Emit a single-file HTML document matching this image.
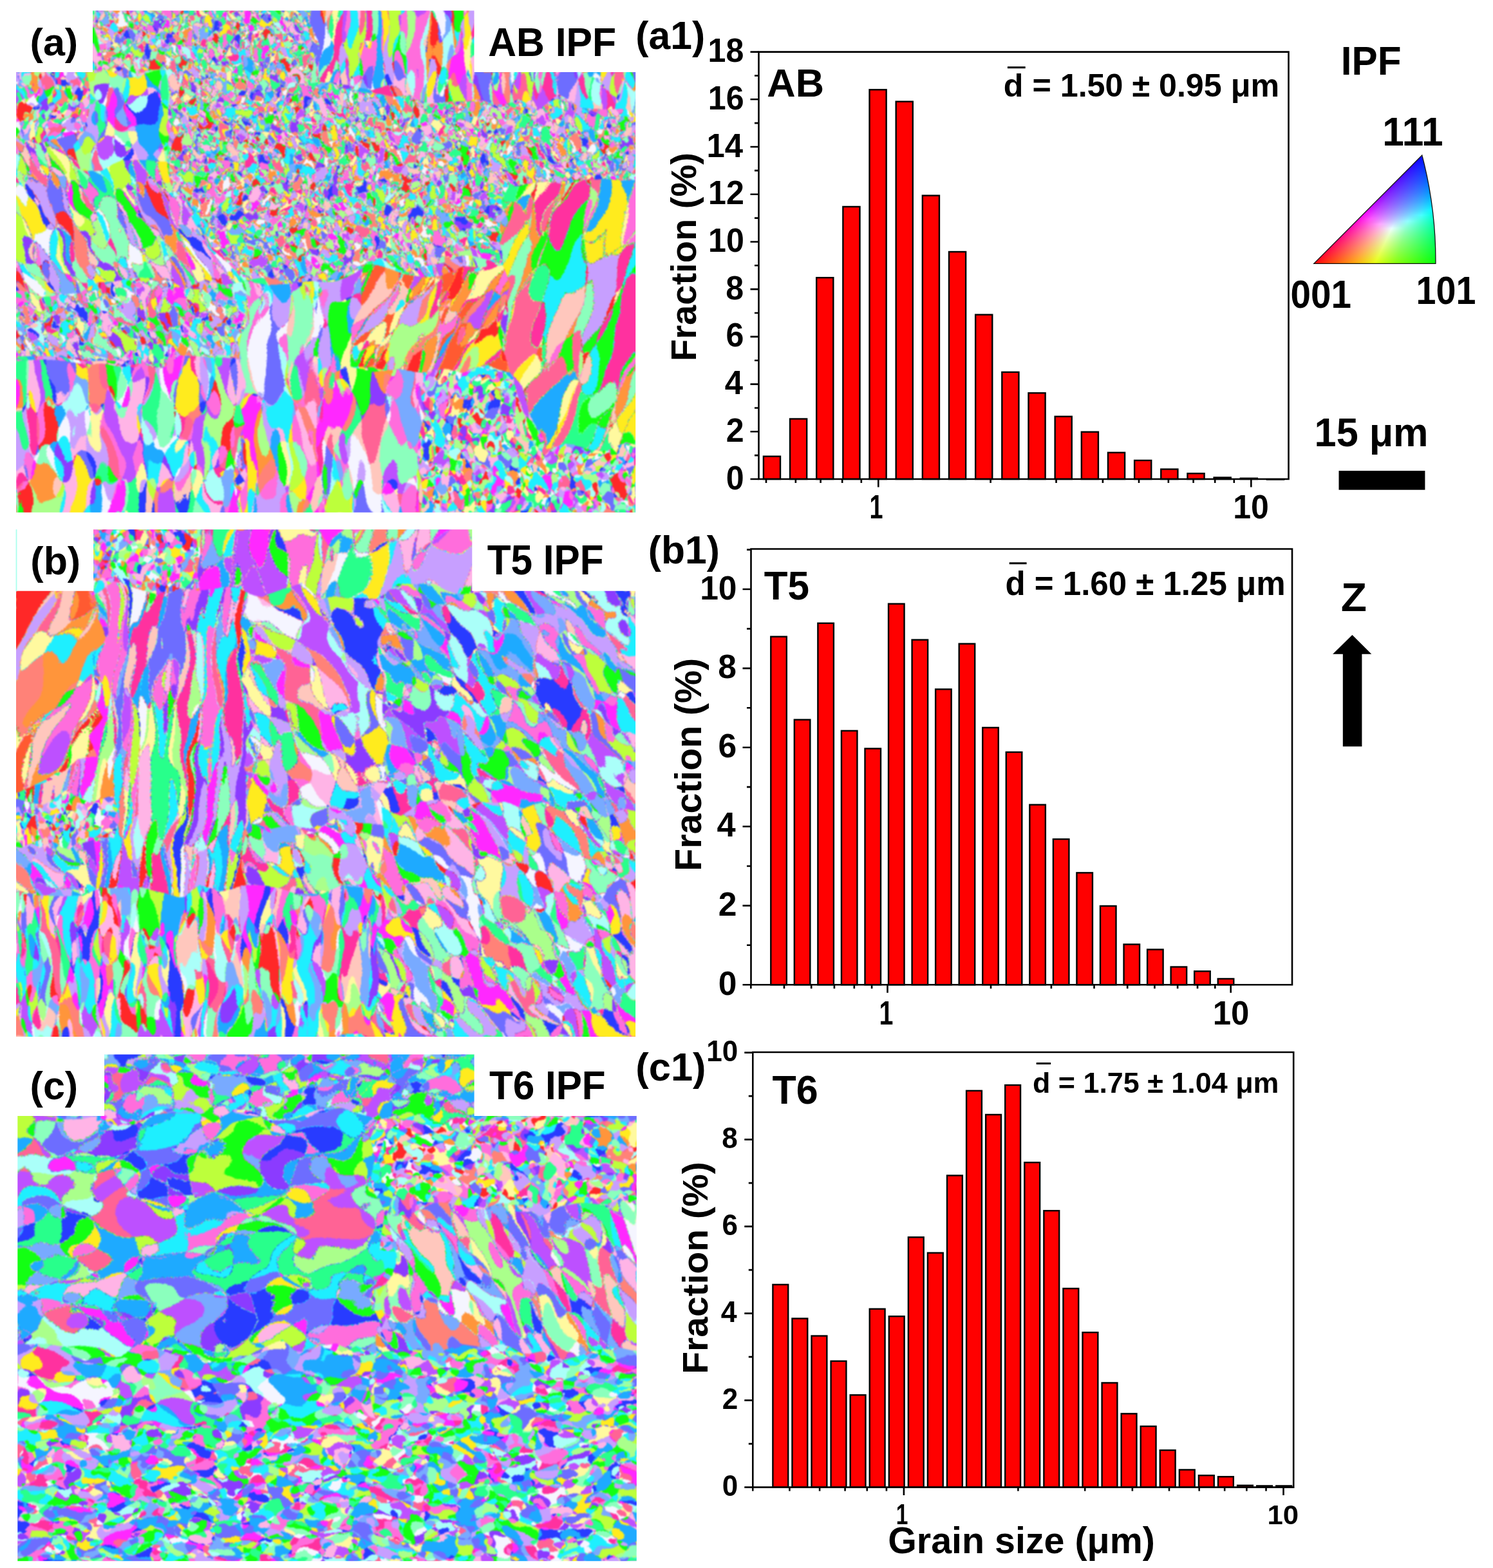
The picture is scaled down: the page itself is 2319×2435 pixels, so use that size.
<!DOCTYPE html>
<html><head><meta charset="utf-8"><style>html,body{margin:0;padding:0;background:#fff}svg{display:block}</style></head>
<body><svg width="2319" height="2435" viewBox="0 0 2319 2435">
<defs><filter id="fa0" x="-133" y="-189" width="1278" height="1190" filterUnits="userSpaceOnUse" color-interpolation-filters="sRGB"><feTurbulence type="fractalNoise" baseFrequency="0.028 0.011" numOctaves="2" seed="3"/><feComponentTransfer><feFuncR type="discrete" tableValues="0 1"/><feFuncG type="discrete" tableValues="0 1"/><feFuncB type="discrete" tableValues="0 1"/><feFuncA type="table" tableValues="1 1"/></feComponentTransfer><feColorMatrix type="matrix" values="0.5 0.25 0.125 0 0 0.5 0.25 0.125 0 0 0.5 0.25 0.125 0 0 0 0 0 0 1" result="i1"/><feTurbulence type="fractalNoise" baseFrequency="0.028 0.011" numOctaves="2" seed="1003"/><feComponentTransfer><feFuncR type="discrete" tableValues="0 1"/><feFuncG type="discrete" tableValues="0 1"/><feFuncA type="table" tableValues="1 1"/></feComponentTransfer><feColorMatrix type="matrix" values="0.0625 0.03125 0 0 0 0.0625 0.03125 0 0 0 0.0625 0.03125 0 0 0 0 0 0 0 1" result="i2"/><feComposite in="i1" in2="i2" operator="arithmetic" k1="0" k2="1" k3="1" k4="0.015625"/><feComponentTransfer><feFuncR type="discrete" tableValues="1.000 0.471 0.078 1.000 0.745 1.000 1.000 1.000 0.667 0.118 0.745 1.000 0.118 0.157 0.549 1.000 1.000 0.784 1.000 0.157 1.000 0.431 1.000 0.784 0.118 0.961 0.667 1.000 1.000 0.549 0.549 0.157"/><feFuncG type="discrete" tableValues="0.706 0.667 1.000 0.157 0.314 0.588 0.784 0.392 1.000 0.941 1.000 0.980 0.667 1.000 0.235 0.431 0.431 0.627 0.706 0.235 0.157 0.431 0.510 0.627 0.941 0.961 1.000 0.922 0.196 1.000 1.000 1.000"/><feFuncB type="discrete" tableValues="0.902 1.000 0.078 1.000 1.000 0.235 0.745 0.588 0.980 1.000 0.235 0.627 1.000 0.549 1.000 0.863 0.863 1.000 0.902 1.000 0.157 1.000 0.471 1.000 1.000 1.000 0.549 0.118 0.627 0.745 0.745 0.549"/></feComponentTransfer></filter><filter id="fa1" x="110" y="97" width="157" height="178" filterUnits="userSpaceOnUse" color-interpolation-filters="sRGB"><feTurbulence type="fractalNoise" baseFrequency="0.02 0.013" numOctaves="2" seed="5"/><feComponentTransfer><feFuncR type="discrete" tableValues="0 1"/><feFuncG type="discrete" tableValues="0 1"/><feFuncB type="discrete" tableValues="0 1"/><feFuncA type="table" tableValues="1 1"/></feComponentTransfer><feColorMatrix type="matrix" values="0.5 0.25 0.125 0 0 0.5 0.25 0.125 0 0 0.5 0.25 0.125 0 0 0 0 0 0 1" result="i1"/><feTurbulence type="fractalNoise" baseFrequency="0.02 0.013" numOctaves="2" seed="1005"/><feComponentTransfer><feFuncR type="discrete" tableValues="0 1"/><feFuncG type="discrete" tableValues="0 1"/><feFuncA type="table" tableValues="1 1"/></feComponentTransfer><feColorMatrix type="matrix" values="0.0625 0.03125 0 0 0 0.0625 0.03125 0 0 0 0.0625 0.03125 0 0 0 0 0 0 0 1" result="i2"/><feComposite in="i1" in2="i2" operator="arithmetic" k1="0" k2="1" k3="1" k4="0.015625"/><feComponentTransfer><feFuncR type="discrete" tableValues="1.000 0.157 0.157 1.000 0.745 0.078 0.667 0.549 0.118 0.078 0.118 0.745 1.000 0.118 0.549 0.667 0.784 1.000 1.000 1.000 1.000 0.549 1.000 0.961 0.118 0.784 0.431 0.471 0.431 0.157 0.471 0.118"/><feFuncG type="discrete" tableValues="0.706 1.000 0.235 0.431 0.314 1.000 1.000 0.235 0.667 1.000 0.667 1.000 0.922 0.941 1.000 1.000 0.627 0.431 0.157 0.196 0.980 1.000 0.392 0.961 0.667 0.627 0.431 0.667 0.431 1.000 0.667 0.941"/><feFuncB type="discrete" tableValues="0.902 0.549 1.000 0.863 1.000 0.078 0.980 1.000 1.000 0.078 1.000 0.235 0.118 1.000 0.745 0.549 1.000 0.863 1.000 0.627 0.627 0.745 0.588 1.000 1.000 1.000 1.000 1.000 1.000 0.549 1.000 1.000"/></feComponentTransfer></filter><clipPath id="cpfa1"><path d="M128.0 112.0 L159.8 103.2 L191.5 120.3 L223.2 118.3 L255.0 112.0 L260.9 146.5 L255.1 181.0 L256.2 215.5 L255.0 250.0 L222.9 249.4 L190.8 249.1 L160.7 268.7 L128.0 262.0 L116.7 232.0 L136.1 202.0 L126.4 172.0 L134.3 142.0Z"/></clipPath><filter id="fa2" x="226" y="-86" width="822" height="573" filterUnits="userSpaceOnUse" color-interpolation-filters="sRGB"><feTurbulence type="fractalNoise" baseFrequency="0.05 0.038" numOctaves="2" seed="7"/><feComponentTransfer><feFuncR type="discrete" tableValues="0 1"/><feFuncG type="discrete" tableValues="0 1"/><feFuncB type="discrete" tableValues="0 1"/><feFuncA type="table" tableValues="1 1"/></feComponentTransfer><feColorMatrix type="matrix" values="0.5 0.25 0.125 0 0 0.5 0.25 0.125 0 0 0.5 0.25 0.125 0 0 0 0 0 0 1" result="i1"/><feTurbulence type="fractalNoise" baseFrequency="0.05 0.038" numOctaves="2" seed="1007"/><feComponentTransfer><feFuncR type="discrete" tableValues="0 1"/><feFuncG type="discrete" tableValues="0 1"/><feFuncA type="table" tableValues="1 1"/></feComponentTransfer><feColorMatrix type="matrix" values="0.0625 0.03125 0 0 0 0.0625 0.03125 0 0 0 0.0625 0.03125 0 0 0 0 0 0 0 1" result="i2"/><feComposite in="i1" in2="i2" operator="arithmetic" k1="0" k2="1" k3="1" k4="0.015625"/><feComponentTransfer><feFuncR type="discrete" tableValues="0.745 1.000 0.667 1.000 0.784 1.000 1.000 0.667 1.000 0.078 1.000 0.157 0.118 0.471 0.118 0.745 0.157 0.549 1.000 0.157 0.431 0.549 1.000 1.000 0.549 1.000 1.000 0.961 1.000 1.000 0.784 0.118"/><feFuncG type="discrete" tableValues="0.314 0.706 1.000 0.157 0.627 0.784 0.431 1.000 0.157 1.000 0.706 1.000 0.667 0.667 0.941 1.000 0.235 0.235 0.431 1.000 0.431 1.000 0.922 0.392 1.000 0.510 0.588 0.961 0.980 0.196 0.627 0.941"/><feFuncB type="discrete" tableValues="1.000 0.902 0.549 1.000 1.000 0.745 0.863 0.980 0.157 0.078 0.902 0.549 1.000 1.000 1.000 0.235 1.000 1.000 0.863 0.549 1.000 0.745 0.118 0.588 0.745 0.471 0.235 1.000 0.627 0.627 1.000 1.000"/></feComponentTransfer></filter><clipPath id="cpfa2"><path d="M144.0 0.0 L175.5 10.9 L206.9 10.7 L238.4 -10.6 L269.8 -10.0 L301.3 8.1 L332.7 5.7 L364.2 4.1 L395.6 -4.6 L427.1 2.5 L458.5 2.6 L490.0 0.0 L488.1 33.8 L498.2 67.5 L491.7 101.2 L490.0 135.0 L521.0 134.3 L551.4 144.1 L581.9 152.5 L612.8 153.3 L644.3 145.4 L675.3 144.9 L706.5 142.6 L737.0 150.0 L771.1 142.7 L804.0 146.2 L835.7 160.4 L869.0 160.7 L901.7 165.9 L933.2 181.8 L967.1 176.9 L1000.0 180.0 L998.5 216.7 L1006.3 253.3 L1000.0 290.0 L970.0 301.4 L940.0 294.2 L910.0 298.7 L880.0 289.8 L850.0 278.0 L820.0 285.8 L790.0 290.0 L795.1 320.6 L775.6 349.2 L775.4 379.4 L780.0 410.0 L748.4 405.1 L716.9 401.7 L685.6 405.8 L654.1 405.9 L622.9 417.1 L591.2 402.7 L560.0 415.0 L520.0 437.0 L483.8 425.9 L447.5 445.1 L411.2 430.9 L375.0 437.0 L358.1 406.5 L332.3 382.8 L312.6 354.4 L290.8 327.5 L270.0 300.0 L255.0 250.0 L265.2 215.5 L255.0 181.0 L263.0 146.5 L255.0 112.0 L218.0 115.5 L181.0 102.8 L144.0 112.0 L153.6 74.7 L143.1 37.3Z"/></clipPath><filter id="fa2b" x="-5" y="93" width="151" height="134" filterUnits="userSpaceOnUse" color-interpolation-filters="sRGB"><feTurbulence type="fractalNoise" baseFrequency="0.05 0.038" numOctaves="2" seed="17"/><feComponentTransfer><feFuncR type="discrete" tableValues="0 1"/><feFuncG type="discrete" tableValues="0 1"/><feFuncB type="discrete" tableValues="0 1"/><feFuncA type="table" tableValues="1 1"/></feComponentTransfer><feColorMatrix type="matrix" values="0.5 0.25 0.125 0 0 0.5 0.25 0.125 0 0 0.5 0.25 0.125 0 0 0 0 0 0 1" result="i1"/><feTurbulence type="fractalNoise" baseFrequency="0.05 0.038" numOctaves="2" seed="1017"/><feComponentTransfer><feFuncR type="discrete" tableValues="0 1"/><feFuncG type="discrete" tableValues="0 1"/><feFuncA type="table" tableValues="1 1"/></feComponentTransfer><feColorMatrix type="matrix" values="0.0625 0.03125 0 0 0 0.0625 0.03125 0 0 0 0.0625 0.03125 0 0 0 0 0 0 0 1" result="i2"/><feComposite in="i1" in2="i2" operator="arithmetic" k1="0" k2="1" k3="1" k4="0.015625"/><feComponentTransfer><feFuncR type="discrete" tableValues="0.157 0.118 0.667 0.078 0.745 0.549 1.000 0.549 1.000 1.000 1.000 0.961 0.118 0.157 1.000 0.745 1.000 1.000 1.000 1.000 1.000 0.118 0.549 0.784 0.667 0.471 1.000 0.784 1.000 1.000 0.157 0.431"/><feFuncG type="discrete" tableValues="1.000 0.667 1.000 1.000 0.314 0.235 0.588 1.000 0.510 0.431 0.157 0.961 0.941 1.000 0.196 1.000 0.980 0.431 0.157 0.392 0.706 0.941 1.000 0.627 1.000 0.667 0.784 0.627 0.922 0.706 0.235 0.431"/><feFuncB type="discrete" tableValues="0.549 1.000 0.549 0.078 1.000 1.000 0.235 0.745 0.471 0.863 1.000 1.000 1.000 0.549 0.627 0.235 0.627 0.863 0.157 0.588 0.902 1.000 0.745 1.000 0.980 1.000 0.745 1.000 0.118 0.902 1.000 1.000"/></feComponentTransfer></filter><clipPath id="cpfa2b"><path d="M0.0 100.0 L32.0 99.4 L64.0 103.8 L96.0 104.0 L128.0 100.0 L136.6 137.3 L139.7 174.7 L128.0 212.0 L96.1 216.5 L64.3 220.4 L31.7 209.1 L0.0 218.0 L4.6 178.7 L2.4 139.3Z"/></clipPath><filter id="fa3" x="632" y="559" width="375" height="267" filterUnits="userSpaceOnUse" color-interpolation-filters="sRGB"><feTurbulence type="fractalNoise" baseFrequency="0.046 0.034" numOctaves="2" seed="8"/><feComponentTransfer><feFuncR type="discrete" tableValues="0 1"/><feFuncG type="discrete" tableValues="0 1"/><feFuncB type="discrete" tableValues="0 1"/><feFuncA type="table" tableValues="1 1"/></feComponentTransfer><feColorMatrix type="matrix" values="0.5 0.25 0.125 0 0 0.5 0.25 0.125 0 0 0.5 0.25 0.125 0 0 0 0 0 0 1" result="i1"/><feTurbulence type="fractalNoise" baseFrequency="0.046 0.034" numOctaves="2" seed="1008"/><feComponentTransfer><feFuncR type="discrete" tableValues="0 1"/><feFuncG type="discrete" tableValues="0 1"/><feFuncA type="table" tableValues="1 1"/></feComponentTransfer><feColorMatrix type="matrix" values="0.0625 0.03125 0 0 0 0.0625 0.03125 0 0 0 0.0625 0.03125 0 0 0 0 0 0 0 1" result="i2"/><feComposite in="i1" in2="i2" operator="arithmetic" k1="0" k2="1" k3="1" k4="0.015625"/><feComponentTransfer><feFuncR type="discrete" tableValues="1.000 0.118 0.667 1.000 0.471 0.549 1.000 0.784 0.745 0.157 0.118 1.000 1.000 0.431 0.118 0.549 0.157 0.961 1.000 0.784 0.549 0.157 1.000 0.745 1.000 1.000 0.667 1.000 1.000 1.000 1.000 0.078"/><feFuncG type="discrete" tableValues="0.784 0.667 1.000 0.706 0.667 1.000 0.157 0.627 1.000 0.235 0.941 0.392 0.706 0.431 0.941 1.000 1.000 0.961 0.157 0.627 0.235 1.000 0.431 0.314 0.510 0.588 1.000 0.431 0.196 0.980 0.922 1.000"/><feFuncB type="discrete" tableValues="0.745 1.000 0.549 0.902 1.000 0.745 1.000 1.000 0.235 1.000 1.000 0.588 0.902 1.000 1.000 0.745 0.549 1.000 0.157 1.000 1.000 0.549 0.863 1.000 0.471 0.235 0.980 0.863 0.627 0.627 0.118 0.078"/></feComponentTransfer></filter><clipPath id="cpfa3"><path d="M650.0 571.0 L685.2 565.7 L720.0 574.1 L755.1 570.9 L790.0 575.0 L802.8 605.4 L817.3 634.9 L844.3 658.0 L850.0 692.0 L880.0 680.3 L910.0 700.1 L940.0 686.2 L970.0 685.6 L1000.0 692.0 L988.1 731.3 L1000.7 770.7 L1000.0 810.0 L968.2 801.9 L936.4 810.6 L904.5 806.7 L872.7 818.4 L840.9 806.8 L809.1 801.2 L777.3 809.4 L745.5 804.2 L713.6 805.9 L681.8 820.5 L650.0 810.0 L656.2 775.9 L652.2 741.7 L645.2 707.6 L638.7 673.4 L658.8 639.3 L649.3 605.1Z"/></clipPath><filter id="fa3b" x="-25" y="230" width="404" height="268" filterUnits="userSpaceOnUse" color-interpolation-filters="sRGB"><feTurbulence type="fractalNoise" baseFrequency="0.046 0.03" numOctaves="2" seed="18"/><feComponentTransfer><feFuncR type="discrete" tableValues="0 1"/><feFuncG type="discrete" tableValues="0 1"/><feFuncB type="discrete" tableValues="0 1"/><feFuncA type="table" tableValues="1 1"/></feComponentTransfer><feColorMatrix type="matrix" values="0.5 0.25 0.125 0 0 0.5 0.25 0.125 0 0 0.5 0.25 0.125 0 0 0 0 0 0 1" result="i1"/><feTurbulence type="fractalNoise" baseFrequency="0.046 0.03" numOctaves="2" seed="1018"/><feComponentTransfer><feFuncR type="discrete" tableValues="0 1"/><feFuncG type="discrete" tableValues="0 1"/><feFuncA type="table" tableValues="1 1"/></feComponentTransfer><feColorMatrix type="matrix" values="0.0625 0.03125 0 0 0 0.0625 0.03125 0 0 0 0.0625 0.03125 0 0 0 0 0 0 0 1" result="i2"/><feComposite in="i1" in2="i2" operator="arithmetic" k1="0" k2="1" k3="1" k4="0.015625"/><feComponentTransfer><feFuncR type="discrete" tableValues="1.000 0.549 1.000 0.745 0.431 0.157 1.000 0.667 0.784 1.000 0.118 0.784 1.000 0.961 0.549 0.549 0.157 1.000 0.745 1.000 0.667 1.000 0.471 0.118 0.157 1.000 1.000 1.000 0.078 0.118 1.000 1.000"/><feFuncG type="discrete" tableValues="0.157 0.235 0.196 1.000 0.431 1.000 0.980 1.000 0.627 0.510 0.667 0.627 0.588 0.961 1.000 1.000 0.235 0.706 0.314 0.706 1.000 0.784 0.667 0.941 1.000 0.431 0.431 0.157 1.000 0.941 0.392 0.922"/><feFuncB type="discrete" tableValues="0.157 1.000 0.627 0.235 1.000 0.549 0.627 0.549 1.000 0.471 1.000 1.000 0.235 1.000 0.745 0.745 1.000 0.902 1.000 0.902 0.980 0.745 1.000 1.000 0.549 0.863 0.863 1.000 0.078 1.000 0.588 0.118"/></feComponentTransfer></filter><clipPath id="cpfa3b"><path d="M0.0 455.0 L31.0 448.0 L62.7 456.9 L93.9 455.7 L125.3 458.4 L155.9 441.2 L187.2 441.0 L218.4 437.8 L249.7 438.4 L281.5 449.4 L312.1 433.6 L343.8 442.0 L375.0 440.0 L381.9 470.5 L379.9 501.0 L376.6 531.5 L375.0 562.0 L343.7 554.1 L312.5 559.9 L281.3 574.4 L250.0 568.4 L218.8 571.7 L187.4 554.6 L156.2 556.3 L124.9 556.7 L93.7 556.4 L62.5 558.6 L31.2 554.0 L0.0 565.0 L7.1 528.3 L-5.8 491.7Z"/></clipPath><filter id="fa4" x="725" y="115" width="349" height="449" filterUnits="userSpaceOnUse" color-interpolation-filters="sRGB"><feTurbulence type="fractalNoise" baseFrequency="0.016 0.0045" numOctaves="2" seed="9"/><feComponentTransfer><feFuncR type="discrete" tableValues="0 1"/><feFuncG type="discrete" tableValues="0 1"/><feFuncB type="discrete" tableValues="0 1"/><feFuncA type="table" tableValues="1 1"/></feComponentTransfer><feColorMatrix type="matrix" values="0.5 0.25 0.125 0 0 0.5 0.25 0.125 0 0 0.5 0.25 0.125 0 0 0 0 0 0 1" result="i1"/><feTurbulence type="fractalNoise" baseFrequency="0.016 0.0045" numOctaves="2" seed="1009"/><feComponentTransfer><feFuncR type="discrete" tableValues="0 1"/><feFuncG type="discrete" tableValues="0 1"/><feFuncA type="table" tableValues="1 1"/></feComponentTransfer><feColorMatrix type="matrix" values="0.0625 0.03125 0 0 0 0.0625 0.03125 0 0 0 0.0625 0.03125 0 0 0 0 0 0 0 1" result="i2"/><feComposite in="i1" in2="i2" operator="arithmetic" k1="0" k2="1" k3="1" k4="0.015625"/><feComponentTransfer><feFuncR type="discrete" tableValues="1.000 0.667 1.000 1.000 0.549 1.000 1.000 0.078 1.000 1.000 0.157 0.745 1.000 0.118 1.000 0.745 0.078 1.000 0.118 0.078 0.784 1.000 1.000 1.000 0.078 0.549 0.157 0.157 1.000 1.000 1.000 1.000"/><feFuncG type="discrete" tableValues="0.157 1.000 0.784 0.431 1.000 0.392 0.588 1.000 0.980 0.431 1.000 1.000 0.922 0.667 0.510 1.000 1.000 0.196 0.941 1.000 0.627 0.157 0.196 0.980 1.000 1.000 1.000 1.000 0.922 0.980 0.392 0.353"/><feFuncB type="discrete" tableValues="0.157 0.549 0.745 0.863 0.745 0.588 0.235 0.078 0.627 0.863 0.549 0.235 0.118 1.000 0.471 0.235 0.078 0.627 1.000 0.078 1.000 0.157 0.627 0.627 0.078 0.745 0.549 0.549 0.118 0.627 0.588 0.196"/></feComponentTransfer></filter><clipPath id="cpfa4"><path d="M790.0 290.0 L819.8 282.7 L849.7 278.5 L879.9 284.5 L909.7 277.7 L939.7 274.6 L969.9 281.6 L1000.0 283.0 L990.0 314.5 L992.8 345.9 L993.6 377.4 L1006.7 408.8 L999.1 440.3 L1005.4 471.8 L1007.9 503.2 L1009.5 534.7 L1006.9 566.2 L989.7 597.6 L992.1 629.1 L992.6 660.5 L1000.0 692.0 L970.0 684.8 L940.0 699.4 L910.0 696.6 L880.0 689.0 L850.0 692.0 L840.0 660.2 L827.6 629.6 L813.1 600.1 L790.0 575.0 L778.1 542.6 L788.5 508.8 L788.1 475.8 L782.1 443.0 L780.0 410.0 L774.8 379.4 L784.4 349.9 L777.7 319.2Z"/></clipPath><filter id="fa5" x="551" y="266" width="292" height="267" filterUnits="userSpaceOnUse" color-interpolation-filters="sRGB"><feTurbulence type="fractalNoise" baseFrequency="0.026 0.008" numOctaves="2" seed="10"/><feComponentTransfer><feFuncR type="discrete" tableValues="0 1"/><feFuncG type="discrete" tableValues="0 1"/><feFuncB type="discrete" tableValues="0 1"/><feFuncA type="table" tableValues="1 1"/></feComponentTransfer><feColorMatrix type="matrix" values="0.5 0.25 0.125 0 0 0.5 0.25 0.125 0 0 0.5 0.25 0.125 0 0 0 0 0 0 1" result="i1"/><feTurbulence type="fractalNoise" baseFrequency="0.026 0.008" numOctaves="2" seed="1010"/><feComponentTransfer><feFuncR type="discrete" tableValues="0 1"/><feFuncG type="discrete" tableValues="0 1"/><feFuncA type="table" tableValues="1 1"/></feComponentTransfer><feColorMatrix type="matrix" values="0.0625 0.03125 0 0 0 0.0625 0.03125 0 0 0 0.0625 0.03125 0 0 0 0 0 0 0 1" result="i2"/><feComposite in="i1" in2="i2" operator="arithmetic" k1="0" k2="1" k3="1" k4="0.015625"/><feComponentTransfer><feFuncR type="discrete" tableValues="1.000 1.000 1.000 0.118 1.000 1.000 1.000 0.078 0.784 1.000 1.000 0.157 0.667 1.000 1.000 1.000 0.745 1.000 0.078 1.000 1.000 1.000 1.000 1.000 0.118 1.000 1.000 1.000 1.000 1.000 1.000 1.000"/><feFuncG type="discrete" tableValues="0.353 0.980 0.784 0.941 0.980 0.196 0.588 1.000 0.627 0.510 0.431 1.000 1.000 0.922 0.510 0.157 0.314 0.510 1.000 0.196 0.588 0.353 0.922 0.157 0.667 0.392 0.353 0.588 0.431 0.392 0.784 0.588"/><feFuncB type="discrete" tableValues="0.196 0.627 0.745 1.000 0.627 0.627 0.235 0.078 1.000 0.471 0.863 0.549 0.549 0.118 0.471 0.157 1.000 0.471 0.078 0.627 0.235 0.196 0.118 0.157 1.000 0.588 0.196 0.235 0.863 0.588 0.745 0.235"/></feComponentTransfer></filter><clipPath id="cpfa5"><path d="M560.0 415.0 L591.5 417.2 L623.0 419.4 L654.4 419.9 L686.0 422.8 L717.3 417.2 L748.8 420.8 L780.0 410.0 L793.3 442.3 L784.8 476.0 L775.4 509.6 L784.4 542.2 L790.0 575.0 L755.3 564.4 L719.7 582.3 L685.0 572.7 L650.0 571.0 L616.6 576.7 L583.3 569.3 L550.0 570.0 L553.8 539.1 L542.3 507.2 L549.2 476.6 L552.7 445.7Z"/></clipPath><filter id="fa6" x="359" y="414" width="303" height="410" filterUnits="userSpaceOnUse" color-interpolation-filters="sRGB"><feTurbulence type="fractalNoise" baseFrequency="0.02 0.0065" numOctaves="2" seed="11"/><feComponentTransfer><feFuncR type="discrete" tableValues="0 1"/><feFuncG type="discrete" tableValues="0 1"/><feFuncB type="discrete" tableValues="0 1"/><feFuncA type="table" tableValues="1 1"/></feComponentTransfer><feColorMatrix type="matrix" values="0.5 0.25 0.125 0 0 0.5 0.25 0.125 0 0 0.5 0.25 0.125 0 0 0 0 0 0 1" result="i1"/><feTurbulence type="fractalNoise" baseFrequency="0.02 0.0065" numOctaves="2" seed="1011"/><feComponentTransfer><feFuncR type="discrete" tableValues="0 1"/><feFuncG type="discrete" tableValues="0 1"/><feFuncA type="table" tableValues="1 1"/></feComponentTransfer><feColorMatrix type="matrix" values="0.0625 0.03125 0 0 0 0.0625 0.03125 0 0 0 0.0625 0.03125 0 0 0 0 0 0 0 1" result="i2"/><feComposite in="i1" in2="i2" operator="arithmetic" k1="0" k2="1" k3="1" k4="0.015625"/><feComponentTransfer><feFuncR type="discrete" tableValues="0.784 0.667 0.118 1.000 1.000 1.000 0.471 1.000 0.118 1.000 1.000 1.000 1.000 1.000 1.000 1.000 0.431 1.000 0.667 0.745 0.961 1.000 1.000 0.549 0.078 0.549 1.000 0.157 0.784 0.157 0.745 0.745"/><feFuncG type="discrete" tableValues="0.627 1.000 0.941 0.922 0.196 0.157 0.667 0.431 0.667 0.588 0.706 0.157 0.431 0.510 0.392 0.706 0.431 0.392 1.000 1.000 0.961 0.784 0.431 1.000 1.000 0.235 0.980 0.235 0.627 1.000 0.314 0.314"/><feFuncB type="discrete" tableValues="1.000 0.549 1.000 0.118 0.627 1.000 1.000 0.863 1.000 0.235 0.902 1.000 0.863 0.471 0.588 0.902 1.000 0.588 0.980 0.235 1.000 0.745 0.863 0.745 0.078 1.000 0.627 1.000 1.000 0.549 1.000 1.000"/></feComponentTransfer></filter><clipPath id="cpfa6"><path d="M375.0 437.0 L411.2 444.0 L447.5 444.7 L483.8 436.6 L520.0 437.0 L560.0 420.0 L563.7 450.4 L568.0 480.8 L550.1 509.7 L552.7 540.0 L550.0 570.0 L583.3 576.6 L616.7 567.6 L650.0 571.0 L643.5 605.1 L655.5 639.3 L642.8 673.4 L644.5 707.6 L652.1 741.7 L649.1 775.9 L650.0 810.0 L619.4 805.6 L588.9 817.4 L558.3 808.7 L527.8 802.7 L497.2 815.6 L466.7 802.7 L436.1 805.5 L405.6 801.7 L375.0 810.0 L371.1 778.9 L365.2 747.8 L382.2 716.8 L382.3 685.7 L373.7 654.6 L365.3 623.5 L367.7 592.4 L378.2 561.3 L370.0 530.2 L385.8 499.2 L377.1 468.1Z"/></clipPath><filter id="fa6b" x="-5" y="545" width="395" height="281" filterUnits="userSpaceOnUse" color-interpolation-filters="sRGB"><feTurbulence type="fractalNoise" baseFrequency="0.022 0.008" numOctaves="2" seed="19"/><feComponentTransfer><feFuncR type="discrete" tableValues="0 1"/><feFuncG type="discrete" tableValues="0 1"/><feFuncB type="discrete" tableValues="0 1"/><feFuncA type="table" tableValues="1 1"/></feComponentTransfer><feColorMatrix type="matrix" values="0.5 0.25 0.125 0 0 0.5 0.25 0.125 0 0 0.5 0.25 0.125 0 0 0 0 0 0 1" result="i1"/><feTurbulence type="fractalNoise" baseFrequency="0.022 0.008" numOctaves="2" seed="1019"/><feComponentTransfer><feFuncR type="discrete" tableValues="0 1"/><feFuncG type="discrete" tableValues="0 1"/><feFuncA type="table" tableValues="1 1"/></feComponentTransfer><feColorMatrix type="matrix" values="0.0625 0.03125 0 0 0 0.0625 0.03125 0 0 0 0.0625 0.03125 0 0 0 0 0 0 0 1" result="i2"/><feComposite in="i1" in2="i2" operator="arithmetic" k1="0" k2="1" k3="1" k4="0.015625"/><feComponentTransfer><feFuncR type="discrete" tableValues="0.961 0.118 0.784 0.667 1.000 0.118 1.000 0.471 0.549 1.000 0.157 0.078 1.000 0.667 1.000 0.745 0.118 0.549 1.000 1.000 0.549 1.000 0.431 1.000 1.000 1.000 0.784 1.000 0.157 0.745 0.157 1.000"/><feFuncG type="discrete" tableValues="0.961 0.667 0.627 1.000 0.157 0.941 0.431 0.667 1.000 0.157 1.000 1.000 0.588 1.000 0.784 1.000 0.941 0.235 0.706 0.196 1.000 0.706 0.431 0.922 0.980 0.431 0.627 0.392 1.000 0.314 0.235 0.510"/><feFuncB type="discrete" tableValues="1.000 1.000 1.000 0.980 1.000 1.000 0.863 1.000 0.745 0.157 0.549 0.078 0.235 0.549 0.745 0.235 1.000 1.000 0.902 0.627 0.745 0.902 1.000 0.118 0.627 0.863 1.000 0.588 0.549 1.000 1.000 0.471"/></feComponentTransfer></filter><clipPath id="cpfa6b"><path d="M0.0 565.0 L31.2 561.4 L62.5 564.0 L93.7 562.3 L125.0 562.7 L156.2 561.6 L187.5 567.3 L218.7 557.5 L250.0 566.2 L281.2 551.0 L312.5 557.7 L343.7 558.3 L375.0 562.0 L383.6 593.0 L369.2 624.0 L379.6 655.0 L368.1 686.0 L364.1 717.0 L380.9 748.0 L365.6 779.0 L375.0 810.0 L343.8 802.6 L312.5 806.0 L281.2 821.3 L250.0 811.0 L218.8 807.0 L187.5 814.9 L156.2 816.6 L125.0 814.6 L93.8 815.8 L62.5 803.1 L31.2 813.7 L0.0 810.0 L-1.8 779.4 L3.4 748.8 L10.8 718.1 L-5.0 687.5 L-10.9 656.9 L11.4 626.2 L8.0 595.6Z"/></clipPath><filter id="fa7" x="473" y="-14" width="533" height="200" filterUnits="userSpaceOnUse" color-interpolation-filters="sRGB"><feTurbulence type="fractalNoise" baseFrequency="0.03 0.008" numOctaves="2" seed="12"/><feComponentTransfer><feFuncR type="discrete" tableValues="0 1"/><feFuncG type="discrete" tableValues="0 1"/><feFuncB type="discrete" tableValues="0 1"/><feFuncA type="table" tableValues="1 1"/></feComponentTransfer><feColorMatrix type="matrix" values="0.5 0.25 0.125 0 0 0.5 0.25 0.125 0 0 0.5 0.25 0.125 0 0 0 0 0 0 1" result="i1"/><feTurbulence type="fractalNoise" baseFrequency="0.03 0.008" numOctaves="2" seed="1012"/><feComponentTransfer><feFuncR type="discrete" tableValues="0 1"/><feFuncG type="discrete" tableValues="0 1"/><feFuncA type="table" tableValues="1 1"/></feComponentTransfer><feColorMatrix type="matrix" values="0.0625 0.03125 0 0 0 0.0625 0.03125 0 0 0 0.0625 0.03125 0 0 0 0 0 0 0 1" result="i2"/><feComposite in="i1" in2="i2" operator="arithmetic" k1="0" k2="1" k3="1" k4="0.015625"/><feComponentTransfer><feFuncR type="discrete" tableValues="0.667 1.000 1.000 0.118 0.471 0.667 0.549 1.000 1.000 0.745 1.000 0.745 1.000 1.000 0.549 0.157 0.118 0.549 1.000 0.078 0.961 0.157 0.431 1.000 1.000 1.000 1.000 0.784 0.157 0.118 1.000 0.784"/><feFuncG type="discrete" tableValues="1.000 0.431 0.706 0.941 0.667 1.000 0.235 0.588 0.157 0.314 0.392 1.000 0.510 0.784 1.000 0.235 0.667 1.000 0.431 1.000 0.961 1.000 0.431 0.157 0.980 0.196 0.922 0.627 1.000 0.941 0.706 0.627"/><feFuncB type="discrete" tableValues="0.549 0.863 0.902 1.000 1.000 0.980 1.000 0.235 1.000 1.000 0.588 0.235 0.471 0.745 0.745 1.000 1.000 0.745 0.863 0.078 1.000 0.549 1.000 0.157 0.627 0.627 0.118 1.000 0.549 1.000 0.902 1.000"/></feComponentTransfer></filter><clipPath id="cpfa7"><path d="M490.0 0.0 L522.5 -4.2 L555.0 -8.4 L587.5 3.6 L620.0 -10.3 L652.5 0.9 L685.0 -3.2 L717.5 -10.6 L750.0 0.0 L749.8 37.3 L761.1 74.7 L750.0 112.0 L781.2 108.9 L812.0 98.7 L843.3 97.7 L874.9 104.2 L906.6 112.3 L937.1 94.0 L968.4 94.9 L1000.0 100.0 L996.9 140.0 L1000.0 180.0 L968.3 165.6 L934.5 170.7 L901.1 171.2 L869.8 153.6 L834.4 172.1 L803.7 149.0 L769.3 158.8 L737.0 150.0 L705.6 156.6 L674.7 155.4 L644.1 149.0 L614.0 134.9 L582.2 148.3 L551.9 136.8 L521.1 133.5 L490.0 135.0 L486.9 101.2 L491.1 67.5 L479.5 33.8Z"/></clipPath><clipPath id="clipa"><path d="M25 112H144V16.5H736.5V112H987.2V795.8H25Z"/></clipPath><filter id="dispa" x="15" y="6.5" width="982.2" height="799.3" filterUnits="userSpaceOnUse" color-interpolation-filters="sRGB"><feTurbulence type="fractalNoise" baseFrequency="0.01" numOctaves="2" seed="97" result="t"/><feDisplacementMap in="SourceGraphic" in2="t" scale="30" xChannelSelector="R" yChannelSelector="G"/><feGaussianBlur stdDeviation="0.9"/></filter><filter id="fb0" x="-154" y="578" width="1320" height="1277" filterUnits="userSpaceOnUse" color-interpolation-filters="sRGB"><feTurbulence type="fractalNoise" baseFrequency="0.022 0.011" numOctaves="2" seed="4"/><feComponentTransfer><feFuncR type="discrete" tableValues="0 1"/><feFuncG type="discrete" tableValues="0 1"/><feFuncB type="discrete" tableValues="0 1"/><feFuncA type="table" tableValues="1 1"/></feComponentTransfer><feColorMatrix type="matrix" values="0.5 0.25 0.125 0 0 0.5 0.25 0.125 0 0 0.5 0.25 0.125 0 0 0 0 0 0 1" result="i1"/><feTurbulence type="fractalNoise" baseFrequency="0.022 0.011" numOctaves="2" seed="1004"/><feComponentTransfer><feFuncR type="discrete" tableValues="0 1"/><feFuncG type="discrete" tableValues="0 1"/><feFuncA type="table" tableValues="1 1"/></feComponentTransfer><feColorMatrix type="matrix" values="0.0625 0.03125 0 0 0 0.0625 0.03125 0 0 0 0.0625 0.03125 0 0 0 0 0 0 0 1" result="i2"/><feComposite in="i1" in2="i2" operator="arithmetic" k1="0" k2="1" k3="1" k4="0.015625"/><feComponentTransfer><feFuncR type="discrete" tableValues="1.000 1.000 0.118 0.471 0.549 0.549 1.000 0.745 0.471 0.784 0.667 0.118 0.745 0.471 0.431 0.078 0.118 1.000 1.000 0.784 0.667 0.745 1.000 0.431 1.000 1.000 0.961 0.157 0.157 1.000 1.000 0.118"/><feFuncG type="discrete" tableValues="0.157 0.431 0.667 0.667 0.235 1.000 0.431 1.000 0.667 0.627 1.000 0.667 0.314 0.667 0.431 1.000 0.941 0.706 0.510 0.627 1.000 0.314 0.588 0.431 0.392 0.784 0.961 1.000 0.235 0.196 0.980 0.941"/><feFuncB type="discrete" tableValues="1.000 0.863 1.000 1.000 1.000 0.745 0.863 0.235 1.000 1.000 0.549 1.000 1.000 1.000 1.000 0.078 1.000 0.902 0.471 1.000 0.980 1.000 0.235 1.000 0.588 0.745 1.000 0.549 1.000 0.627 0.627 1.000"/></feComponentTransfer></filter><filter id="fb1" x="-92" y="1074" width="267" height="384" filterUnits="userSpaceOnUse" color-interpolation-filters="sRGB"><feTurbulence type="fractalNoise" baseFrequency="0.016 0.0045" numOctaves="2" seed="14"/><feComponentTransfer><feFuncR type="discrete" tableValues="0 1"/><feFuncG type="discrete" tableValues="0 1"/><feFuncB type="discrete" tableValues="0 1"/><feFuncA type="table" tableValues="1 1"/></feComponentTransfer><feColorMatrix type="matrix" values="0.5 0.25 0.125 0 0 0.5 0.25 0.125 0 0 0.5 0.25 0.125 0 0 0 0 0 0 1" result="i1"/><feTurbulence type="fractalNoise" baseFrequency="0.016 0.0045" numOctaves="2" seed="1014"/><feComponentTransfer><feFuncR type="discrete" tableValues="0 1"/><feFuncG type="discrete" tableValues="0 1"/><feFuncA type="table" tableValues="1 1"/></feComponentTransfer><feColorMatrix type="matrix" values="0.0625 0.03125 0 0 0 0.0625 0.03125 0 0 0 0.0625 0.03125 0 0 0 0 0 0 0 1" result="i2"/><feComposite in="i1" in2="i2" operator="arithmetic" k1="0" k2="1" k3="1" k4="0.015625"/><feComponentTransfer><feFuncR type="discrete" tableValues="0.667 1.000 1.000 1.000 0.118 0.078 0.745 1.000 1.000 1.000 1.000 1.000 1.000 1.000 1.000 0.157 1.000 0.784 1.000 1.000 1.000 1.000 0.118 1.000 1.000 1.000 1.000 1.000 0.078 1.000 1.000 1.000"/><feFuncG type="discrete" tableValues="1.000 0.510 0.588 0.784 0.667 1.000 0.314 0.431 0.196 0.510 0.353 0.588 0.353 0.588 0.392 1.000 0.784 0.627 0.922 0.392 0.588 0.510 0.941 0.980 0.157 0.157 0.196 0.922 1.000 0.980 0.431 0.353"/><feFuncB type="discrete" tableValues="0.549 0.471 0.235 0.745 1.000 0.078 1.000 0.863 0.627 0.471 0.196 0.235 0.196 0.235 0.588 0.549 0.745 1.000 0.118 0.588 0.235 0.471 1.000 0.627 0.157 0.157 0.627 0.118 0.078 0.627 0.863 0.196"/></feComponentTransfer></filter><clipPath id="cpfb1"><path d="M0.0 900.0 L30.0 898.9 L60.0 901.4 L90.0 910.2 L120.0 899.2 L150.0 900.0 L149.8 931.1 L147.9 962.2 L157.6 993.3 L149.7 1024.4 L146.9 1055.6 L143.0 1086.7 L159.7 1117.8 L154.7 1148.9 L150.0 1180.0 L123.6 1201.1 L87.2 1197.1 L58.3 1211.7 L34.1 1238.2 L0.0 1240.0 L11.6 1209.1 L11.2 1178.2 L3.7 1147.3 L2.8 1116.4 L-8.2 1085.5 L-11.6 1054.5 L0.7 1023.6 L-10.6 992.7 L-7.4 961.8 L-6.2 930.9Z"/></clipPath><filter id="fb1b" x="-1" y="904" width="409" height="521" filterUnits="userSpaceOnUse" color-interpolation-filters="sRGB"><feTurbulence type="fractalNoise" baseFrequency="0.03 0.0045" numOctaves="2" seed="24"/><feComponentTransfer><feFuncR type="discrete" tableValues="0 1"/><feFuncG type="discrete" tableValues="0 1"/><feFuncB type="discrete" tableValues="0 1"/><feFuncA type="table" tableValues="1 1"/></feComponentTransfer><feColorMatrix type="matrix" values="0.5 0.25 0.125 0 0 0.5 0.25 0.125 0 0 0.5 0.25 0.125 0 0 0 0 0 0 1" result="i1"/><feTurbulence type="fractalNoise" baseFrequency="0.03 0.0045" numOctaves="2" seed="1024"/><feComponentTransfer><feFuncR type="discrete" tableValues="0 1"/><feFuncG type="discrete" tableValues="0 1"/><feFuncA type="table" tableValues="1 1"/></feComponentTransfer><feColorMatrix type="matrix" values="0.0625 0.03125 0 0 0 0.0625 0.03125 0 0 0 0.0625 0.03125 0 0 0 0 0 0 0 1" result="i2"/><feComposite in="i1" in2="i2" operator="arithmetic" k1="0" k2="1" k3="1" k4="0.015625"/><feComponentTransfer><feFuncR type="discrete" tableValues="0.157 0.157 0.157 0.745 0.667 1.000 0.961 1.000 1.000 0.118 1.000 1.000 0.667 1.000 0.784 1.000 0.549 0.078 1.000 1.000 1.000 1.000 0.118 0.118 0.784 0.549 0.745 1.000 1.000 0.549 0.431 0.471"/><feFuncG type="discrete" tableValues="1.000 1.000 0.235 1.000 1.000 0.980 0.961 0.588 0.157 0.941 0.922 0.431 1.000 0.706 0.627 0.392 1.000 1.000 0.157 0.706 0.196 0.510 0.667 0.941 0.627 0.235 0.314 0.431 0.784 1.000 0.431 0.667"/><feFuncB type="discrete" tableValues="0.549 0.549 1.000 0.235 0.549 0.627 1.000 0.235 1.000 1.000 0.118 0.863 0.980 0.902 1.000 0.588 0.745 0.078 0.157 0.902 0.627 0.471 1.000 1.000 1.000 1.000 1.000 0.863 0.745 0.745 1.000 1.000"/></feComponentTransfer></filter><clipPath id="cpfb1b"><path d="M150.0 900.0 L183.7 892.0 L217.4 904.6 L251.1 903.2 L284.9 899.5 L318.6 893.2 L352.3 907.0 L386.0 900.0 L378.6 930.3 L385.7 960.6 L385.9 990.9 L392.3 1021.2 L397.9 1051.6 L389.1 1081.9 L384.0 1112.2 L396.3 1142.5 L378.9 1172.8 L392.4 1203.1 L392.4 1233.4 L397.0 1263.8 L374.1 1294.1 L380.3 1324.4 L377.0 1354.7 L386.0 1385.0 L352.3 1382.2 L318.6 1396.2 L284.9 1389.1 L251.1 1385.1 L217.4 1394.2 L183.7 1374.2 L150.0 1385.0 L146.8 1345.5 L150.0 1306.0 L120.0 1314.3 L90.0 1298.4 L60.0 1315.0 L30.0 1295.7 L0.0 1306.0 L-1.1 1273.0 L0.0 1240.0 L30.5 1229.2 L58.6 1212.5 L89.9 1203.7 L117.2 1185.0 L150.0 1180.0 L138.9 1148.9 L158.8 1117.8 L143.6 1086.7 L156.7 1055.6 L143.0 1024.4 L161.3 993.3 L159.5 962.2 L156.1 931.1Z"/></clipPath><filter id="fb2" x="364" y="876" width="384" height="446" filterUnits="userSpaceOnUse" color-interpolation-filters="sRGB"><feTurbulence type="fractalNoise" baseFrequency="0.014 0.008" numOctaves="2" seed="15"/><feComponentTransfer><feFuncR type="discrete" tableValues="0 1"/><feFuncG type="discrete" tableValues="0 1"/><feFuncB type="discrete" tableValues="0 1"/><feFuncA type="table" tableValues="1 1"/></feComponentTransfer><feColorMatrix type="matrix" values="0.5 0.25 0.125 0 0 0.5 0.25 0.125 0 0 0.5 0.25 0.125 0 0 0 0 0 0 1" result="i1"/><feTurbulence type="fractalNoise" baseFrequency="0.014 0.008" numOctaves="2" seed="1015"/><feComponentTransfer><feFuncR type="discrete" tableValues="0 1"/><feFuncG type="discrete" tableValues="0 1"/><feFuncA type="table" tableValues="1 1"/></feComponentTransfer><feColorMatrix type="matrix" values="0.0625 0.03125 0 0 0 0.0625 0.03125 0 0 0 0.0625 0.03125 0 0 0 0 0 0 0 1" result="i2"/><feComposite in="i1" in2="i2" operator="arithmetic" k1="0" k2="1" k3="1" k4="0.015625"/><feComponentTransfer><feFuncR type="discrete" tableValues="0.118 0.961 0.431 1.000 0.078 1.000 0.784 1.000 0.667 0.667 0.667 0.745 0.784 1.000 0.471 0.471 0.549 1.000 1.000 0.549 0.745 1.000 0.471 0.784 0.961 1.000 1.000 1.000 0.157 0.118 1.000 0.157"/><feFuncG type="discrete" tableValues="0.667 0.961 0.431 0.922 1.000 0.392 0.627 0.157 1.000 1.000 1.000 0.314 0.627 0.706 0.667 0.667 1.000 0.980 0.196 0.235 1.000 0.784 0.667 0.627 0.961 0.706 0.431 0.510 0.235 0.941 0.588 1.000"/><feFuncB type="discrete" tableValues="1.000 1.000 1.000 0.118 0.078 0.588 1.000 1.000 0.549 0.980 0.980 1.000 1.000 0.902 1.000 1.000 0.745 0.627 0.627 1.000 0.235 0.745 1.000 1.000 1.000 0.902 0.863 0.471 1.000 1.000 0.235 0.549"/></feComponentTransfer></filter><clipPath id="cpfb2"><path d="M386.0 900.0 L420.8 899.4 L455.7 903.8 L490.5 904.0 L525.3 891.4 L560.2 888.3 L595.0 900.0 L598.0 931.7 L600.4 963.3 L587.6 995.0 L590.4 1026.7 L592.6 1058.3 L593.6 1090.0 L591.1 1121.7 L603.5 1153.3 L596.4 1185.0 L603.1 1216.7 L585.3 1248.3 L595.0 1280.0 L560.2 1290.6 L525.3 1272.3 L490.5 1290.2 L455.7 1275.5 L420.8 1283.9 L386.0 1280.0 L383.7 1248.3 L394.2 1216.7 L374.4 1185.0 L375.5 1153.3 L396.0 1121.7 L386.2 1090.0 L376.2 1058.3 L397.7 1026.7 L396.7 995.0 L376.7 963.3 L384.2 931.7Z"/></clipPath><filter id="fb2b" x="375" y="1287" width="546" height="532" filterUnits="userSpaceOnUse" color-interpolation-filters="sRGB"><feTurbulence type="fractalNoise" baseFrequency="0.022 0.011" numOctaves="2" seed="25"/><feComponentTransfer><feFuncR type="discrete" tableValues="0 1"/><feFuncG type="discrete" tableValues="0 1"/><feFuncB type="discrete" tableValues="0 1"/><feFuncA type="table" tableValues="1 1"/></feComponentTransfer><feColorMatrix type="matrix" values="0.5 0.25 0.125 0 0 0.5 0.25 0.125 0 0 0.5 0.25 0.125 0 0 0 0 0 0 1" result="i1"/><feTurbulence type="fractalNoise" baseFrequency="0.022 0.011" numOctaves="2" seed="1025"/><feComponentTransfer><feFuncR type="discrete" tableValues="0 1"/><feFuncG type="discrete" tableValues="0 1"/><feFuncA type="table" tableValues="1 1"/></feComponentTransfer><feColorMatrix type="matrix" values="0.0625 0.03125 0 0 0 0.0625 0.03125 0 0 0 0.0625 0.03125 0 0 0 0 0 0 0 1" result="i2"/><feComposite in="i1" in2="i2" operator="arithmetic" k1="0" k2="1" k3="1" k4="0.015625"/><feComponentTransfer><feFuncR type="discrete" tableValues="0.667 0.549 0.549 1.000 0.157 1.000 1.000 1.000 1.000 0.078 0.118 0.667 1.000 1.000 0.549 0.157 1.000 0.745 0.784 0.118 1.000 1.000 0.157 0.118 1.000 1.000 1.000 0.745 0.431 0.784 0.961 0.471"/><feFuncG type="discrete" tableValues="1.000 0.235 1.000 0.980 0.235 0.431 0.196 0.510 0.784 1.000 0.667 1.000 0.922 0.157 1.000 1.000 0.392 1.000 0.627 0.941 0.706 0.588 1.000 0.941 0.706 0.431 0.157 0.314 0.431 0.627 0.961 0.667"/><feFuncB type="discrete" tableValues="0.549 1.000 0.745 0.627 1.000 0.863 0.627 0.471 0.745 0.078 1.000 0.980 0.118 1.000 0.745 0.549 0.588 0.235 1.000 1.000 0.902 0.235 0.549 1.000 0.902 0.863 0.157 1.000 1.000 1.000 1.000 1.000"/></feComponentTransfer></filter><clipPath id="cpfb2b"><path d="M595.0 1254.0 L626.2 1265.0 L657.3 1245.4 L688.5 1242.6 L719.6 1266.0 L750.8 1246.4 L781.9 1244.9 L813.1 1257.6 L844.2 1250.3 L875.4 1263.3 L906.5 1247.6 L937.7 1265.0 L968.8 1249.7 L1000.0 1254.0 L997.6 1284.5 L989.6 1315.0 L995.6 1345.5 L989.8 1376.0 L995.0 1406.5 L1010.8 1437.0 L990.8 1467.5 L997.9 1498.0 L1004.5 1528.5 L1007.4 1559.0 L991.6 1589.5 L1000.0 1620.0 L968.8 1618.0 L937.7 1609.5 L906.5 1613.4 L875.4 1608.9 L844.2 1618.4 L813.1 1615.2 L781.9 1617.3 L750.8 1625.8 L719.6 1609.0 L688.5 1624.5 L657.3 1613.3 L626.2 1609.1 L595.0 1620.0 L598.6 1589.5 L586.4 1559.0 L602.8 1528.5 L599.0 1498.0 L587.4 1467.5 L584.2 1437.0 L595.8 1406.5 L583.8 1376.0 L605.2 1345.5 L595.2 1315.0 L595.4 1284.5Z"/></clipPath><filter id="fb2c" x="311" y="1205" width="247" height="208" filterUnits="userSpaceOnUse" color-interpolation-filters="sRGB"><feTurbulence type="fractalNoise" baseFrequency="0.022 0.011" numOctaves="2" seed="26"/><feComponentTransfer><feFuncR type="discrete" tableValues="0 1"/><feFuncG type="discrete" tableValues="0 1"/><feFuncB type="discrete" tableValues="0 1"/><feFuncA type="table" tableValues="1 1"/></feComponentTransfer><feColorMatrix type="matrix" values="0.5 0.25 0.125 0 0 0.5 0.25 0.125 0 0 0.5 0.25 0.125 0 0 0 0 0 0 1" result="i1"/><feTurbulence type="fractalNoise" baseFrequency="0.022 0.011" numOctaves="2" seed="1026"/><feComponentTransfer><feFuncR type="discrete" tableValues="0 1"/><feFuncG type="discrete" tableValues="0 1"/><feFuncA type="table" tableValues="1 1"/></feComponentTransfer><feColorMatrix type="matrix" values="0.0625 0.03125 0 0 0 0.0625 0.03125 0 0 0 0.0625 0.03125 0 0 0 0 0 0 0 1" result="i2"/><feComposite in="i1" in2="i2" operator="arithmetic" k1="0" k2="1" k3="1" k4="0.015625"/><feComponentTransfer><feFuncR type="discrete" tableValues="0.118 1.000 0.784 0.549 1.000 0.471 0.667 1.000 1.000 0.961 1.000 0.078 1.000 0.118 1.000 0.431 1.000 0.745 1.000 0.157 0.549 0.784 0.157 0.157 1.000 1.000 0.549 0.667 0.745 1.000 0.118 1.000"/><feFuncG type="discrete" tableValues="0.941 0.157 0.627 1.000 0.706 0.667 1.000 0.706 0.510 0.961 0.157 1.000 0.392 0.667 0.922 0.431 0.431 0.314 0.784 1.000 0.235 0.627 0.235 1.000 0.196 0.588 1.000 1.000 1.000 0.431 0.941 0.980"/><feFuncB type="discrete" tableValues="1.000 1.000 1.000 0.745 0.902 1.000 0.980 0.902 0.471 1.000 0.157 0.078 0.588 1.000 0.118 1.000 0.863 1.000 0.745 0.549 1.000 1.000 1.000 0.549 0.627 0.235 0.745 0.549 0.235 0.863 1.000 0.627"/></feComponentTransfer></filter><clipPath id="cpfb2c"><path d="M386.0 1280.0 L420.8 1290.2 L455.7 1290.8 L490.5 1289.4 L525.3 1270.0 L560.2 1282.2 L595.0 1280.0 L596.8 1315.0 L594.3 1350.0 L595.0 1385.0 L560.2 1393.9 L525.3 1392.4 L490.5 1386.3 L455.7 1391.7 L420.8 1386.1 L386.0 1385.0 L374.6 1350.0 L376.1 1315.0Z"/></clipPath><filter id="fb3" x="-5" y="1367" width="615" height="269" filterUnits="userSpaceOnUse" color-interpolation-filters="sRGB"><feTurbulence type="fractalNoise" baseFrequency="0.032 0.009" numOctaves="2" seed="16"/><feComponentTransfer><feFuncR type="discrete" tableValues="0 1"/><feFuncG type="discrete" tableValues="0 1"/><feFuncB type="discrete" tableValues="0 1"/><feFuncA type="table" tableValues="1 1"/></feComponentTransfer><feColorMatrix type="matrix" values="0.5 0.25 0.125 0 0 0.5 0.25 0.125 0 0 0.5 0.25 0.125 0 0 0 0 0 0 1" result="i1"/><feTurbulence type="fractalNoise" baseFrequency="0.032 0.009" numOctaves="2" seed="1016"/><feComponentTransfer><feFuncR type="discrete" tableValues="0 1"/><feFuncG type="discrete" tableValues="0 1"/><feFuncA type="table" tableValues="1 1"/></feComponentTransfer><feColorMatrix type="matrix" values="0.0625 0.03125 0 0 0 0.0625 0.03125 0 0 0 0.0625 0.03125 0 0 0 0 0 0 0 1" result="i2"/><feComposite in="i1" in2="i2" operator="arithmetic" k1="0" k2="1" k3="1" k4="0.015625"/><feComponentTransfer><feFuncR type="discrete" tableValues="0.667 0.961 1.000 1.000 0.667 1.000 1.000 0.157 1.000 0.549 1.000 0.157 1.000 1.000 0.784 1.000 0.549 0.745 0.471 0.118 0.431 1.000 0.118 0.549 1.000 0.078 1.000 0.745 1.000 0.784 0.157 0.118"/><feFuncG type="discrete" tableValues="1.000 0.961 0.784 0.431 1.000 0.588 0.980 0.235 0.392 1.000 0.196 1.000 0.922 0.510 0.627 0.157 1.000 0.314 0.667 0.941 0.431 0.706 0.941 0.235 0.157 1.000 0.431 1.000 0.706 0.627 1.000 0.667"/><feFuncB type="discrete" tableValues="0.980 1.000 0.745 0.863 0.549 0.235 0.627 1.000 0.588 0.745 0.627 0.549 0.118 0.471 1.000 1.000 0.745 1.000 1.000 1.000 1.000 0.902 1.000 1.000 0.157 0.078 0.863 0.235 0.902 1.000 0.549 1.000"/></feComponentTransfer></filter><clipPath id="cpfb3"><path d="M0.0 1385.0 L31.3 1379.2 L62.6 1389.4 L93.9 1389.4 L125.3 1393.4 L156.6 1377.5 L187.9 1378.5 L219.2 1376.5 L250.5 1378.4 L281.8 1390.6 L313.2 1376.1 L344.5 1385.8 L375.8 1378.1 L407.1 1380.1 L438.4 1383.4 L469.7 1393.1 L501.1 1387.6 L532.4 1373.3 L563.7 1379.6 L595.0 1385.0 L603.5 1418.6 L586.1 1452.1 L587.6 1485.7 L587.7 1519.3 L587.2 1552.9 L589.1 1586.4 L595.0 1620.0 L563.7 1609.2 L532.4 1612.9 L501.1 1625.8 L469.7 1611.6 L438.4 1620.3 L407.1 1613.9 L375.8 1618.5 L344.5 1621.7 L313.2 1623.3 L281.8 1621.7 L250.5 1624.5 L219.2 1629.2 L187.9 1612.3 L156.6 1612.8 L125.3 1608.3 L93.9 1615.4 L62.6 1618.7 L31.3 1614.0 L0.0 1620.0 L-8.8 1586.4 L4.2 1552.9 L-1.4 1519.3 L-7.8 1485.7 L-7.1 1452.1 L0.5 1418.6Z"/></clipPath><filter id="fb3b" x="-5" y="1224" width="196" height="98" filterUnits="userSpaceOnUse" color-interpolation-filters="sRGB"><feTurbulence type="fractalNoise" baseFrequency="0.05 0.038" numOctaves="2" seed="27"/><feComponentTransfer><feFuncR type="discrete" tableValues="0 1"/><feFuncG type="discrete" tableValues="0 1"/><feFuncB type="discrete" tableValues="0 1"/><feFuncA type="table" tableValues="1 1"/></feComponentTransfer><feColorMatrix type="matrix" values="0.5 0.25 0.125 0 0 0.5 0.25 0.125 0 0 0.5 0.25 0.125 0 0 0 0 0 0 1" result="i1"/><feTurbulence type="fractalNoise" baseFrequency="0.05 0.038" numOctaves="2" seed="1027"/><feComponentTransfer><feFuncR type="discrete" tableValues="0 1"/><feFuncG type="discrete" tableValues="0 1"/><feFuncA type="table" tableValues="1 1"/></feComponentTransfer><feColorMatrix type="matrix" values="0.0625 0.03125 0 0 0 0.0625 0.03125 0 0 0 0.0625 0.03125 0 0 0 0 0 0 0 1" result="i2"/><feComposite in="i1" in2="i2" operator="arithmetic" k1="0" k2="1" k3="1" k4="0.015625"/><feComponentTransfer><feFuncR type="discrete" tableValues="1.000 0.667 0.157 0.157 1.000 1.000 0.549 0.118 0.549 0.078 0.745 0.961 0.118 1.000 0.745 0.157 0.118 1.000 1.000 1.000 1.000 0.471 1.000 0.549 0.784 0.431 1.000 1.000 1.000 1.000 0.667 0.784"/><feFuncG type="discrete" tableValues="0.196 1.000 1.000 0.235 0.392 0.157 1.000 0.941 0.235 1.000 0.314 0.961 0.941 0.588 1.000 1.000 0.667 0.431 0.784 0.980 0.922 0.667 0.157 1.000 0.627 0.431 0.510 0.431 0.706 0.706 1.000 0.627"/><feFuncB type="discrete" tableValues="0.627 0.549 0.549 1.000 0.588 0.157 0.745 1.000 1.000 0.078 1.000 1.000 1.000 0.235 0.235 0.549 1.000 0.863 0.745 0.627 0.118 1.000 1.000 0.745 1.000 1.000 0.471 0.863 0.902 0.902 0.980 1.000"/></feComponentTransfer></filter><clipPath id="cpfb3b"><path d="M0.0 1238.0 L35.4 1243.1 L70.8 1246.2 L106.2 1230.4 L141.6 1250.0 L177.0 1238.0 L184.3 1272.0 L177.0 1306.0 L141.6 1301.9 L106.2 1315.8 L70.8 1299.8 L35.4 1314.4 L0.0 1306.0 L5.0 1272.0Z"/></clipPath><filter id="fb5" x="132" y="792" width="198" height="132" filterUnits="userSpaceOnUse" color-interpolation-filters="sRGB"><feTurbulence type="fractalNoise" baseFrequency="0.05 0.04" numOctaves="2" seed="18"/><feComponentTransfer><feFuncR type="discrete" tableValues="0 1"/><feFuncG type="discrete" tableValues="0 1"/><feFuncB type="discrete" tableValues="0 1"/><feFuncA type="table" tableValues="1 1"/></feComponentTransfer><feColorMatrix type="matrix" values="0.5 0.25 0.125 0 0 0.5 0.25 0.125 0 0 0.5 0.25 0.125 0 0 0 0 0 0 1" result="i1"/><feTurbulence type="fractalNoise" baseFrequency="0.05 0.04" numOctaves="2" seed="1018"/><feComponentTransfer><feFuncR type="discrete" tableValues="0 1"/><feFuncG type="discrete" tableValues="0 1"/><feFuncA type="table" tableValues="1 1"/></feComponentTransfer><feColorMatrix type="matrix" values="0.0625 0.03125 0 0 0 0.0625 0.03125 0 0 0 0.0625 0.03125 0 0 0 0 0 0 0 1" result="i2"/><feComposite in="i1" in2="i2" operator="arithmetic" k1="0" k2="1" k3="1" k4="0.015625"/><feComponentTransfer><feFuncR type="discrete" tableValues="1.000 0.549 1.000 0.745 0.431 0.157 1.000 0.667 0.784 1.000 0.118 0.784 1.000 0.961 0.549 0.549 0.157 1.000 0.745 1.000 0.667 1.000 0.471 0.118 0.157 1.000 1.000 1.000 0.078 0.118 1.000 1.000"/><feFuncG type="discrete" tableValues="0.157 0.235 0.196 1.000 0.431 1.000 0.980 1.000 0.627 0.510 0.667 0.627 0.588 0.961 1.000 1.000 0.235 0.706 0.314 0.706 1.000 0.784 0.667 0.941 1.000 0.431 0.431 0.157 1.000 0.941 0.392 0.922"/><feFuncB type="discrete" tableValues="0.157 1.000 0.627 0.235 1.000 0.549 0.627 0.549 1.000 0.471 1.000 1.000 0.235 1.000 0.745 0.745 1.000 0.902 1.000 0.902 0.980 0.745 1.000 1.000 0.549 0.863 0.863 1.000 0.078 1.000 0.588 0.118"/></feComponentTransfer></filter><clipPath id="cpfb5"><path d="M145.0 810.0 L178.4 821.2 L211.8 798.3 L245.2 815.7 L278.6 801.8 L312.0 810.0 L300.3 846.0 L323.6 882.0 L312.0 918.0 L278.6 908.9 L245.2 913.6 L211.8 909.4 L178.4 906.0 L145.0 918.0 L138.8 882.0 L141.1 846.0Z"/></clipPath><filter id="fb6" x="248" y="770" width="455" height="184" filterUnits="userSpaceOnUse" color-interpolation-filters="sRGB"><feTurbulence type="fractalNoise" baseFrequency="0.016 0.006" numOctaves="2" seed="28"/><feComponentTransfer><feFuncR type="discrete" tableValues="0 1"/><feFuncG type="discrete" tableValues="0 1"/><feFuncB type="discrete" tableValues="0 1"/><feFuncA type="table" tableValues="1 1"/></feComponentTransfer><feColorMatrix type="matrix" values="0.5 0.25 0.125 0 0 0.5 0.25 0.125 0 0 0.5 0.25 0.125 0 0 0 0 0 0 1" result="i1"/><feTurbulence type="fractalNoise" baseFrequency="0.016 0.006" numOctaves="2" seed="1028"/><feComponentTransfer><feFuncR type="discrete" tableValues="0 1"/><feFuncG type="discrete" tableValues="0 1"/><feFuncA type="table" tableValues="1 1"/></feComponentTransfer><feColorMatrix type="matrix" values="0.0625 0.03125 0 0 0 0.0625 0.03125 0 0 0 0.0625 0.03125 0 0 0 0 0 0 0 1" result="i2"/><feComposite in="i1" in2="i2" operator="arithmetic" k1="0" k2="1" k3="1" k4="0.015625"/><feComponentTransfer><feFuncR type="discrete" tableValues="1.000 0.745 0.745 0.667 0.157 1.000 0.078 1.000 0.549 1.000 1.000 1.000 1.000 1.000 0.549 0.431 1.000 0.784 0.745 1.000 1.000 1.000 0.118 0.784 0.961 1.000 0.118 0.667 0.157 1.000 0.471 1.000"/><feFuncG type="discrete" tableValues="0.510 1.000 0.314 1.000 0.235 0.431 1.000 0.706 1.000 0.588 0.157 0.392 0.706 0.392 0.235 0.431 0.157 0.627 0.314 0.431 0.922 0.980 0.941 0.627 0.961 0.784 0.667 1.000 1.000 0.196 0.667 0.431"/><feFuncB type="discrete" tableValues="0.471 0.235 1.000 0.980 1.000 0.863 0.078 0.902 0.745 0.235 1.000 0.588 0.902 0.588 1.000 1.000 1.000 1.000 1.000 0.863 0.118 0.627 1.000 1.000 1.000 0.745 1.000 0.549 0.549 0.627 1.000 0.863"/></feComponentTransfer></filter><clipPath id="cpfb6"><path d="M312.0 810.0 L342.6 807.0 L373.1 820.2 L403.7 818.2 L434.3 803.1 L464.9 818.9 L495.4 813.3 L526.0 799.0 L556.6 820.9 L587.1 804.1 L617.7 805.3 L648.3 808.2 L678.9 812.1 L709.4 801.0 L740.0 810.0 L735.5 846.0 L732.0 882.0 L740.0 918.0 L709.4 917.7 L678.9 910.9 L648.3 915.0 L617.7 910.2 L587.1 925.7 L556.6 921.4 L526.0 918.7 L495.4 927.5 L464.9 906.6 L434.3 914.7 L403.7 927.6 L373.1 916.0 L342.6 920.1 L312.0 918.0 L304.5 882.0 L303.9 846.0Z"/></clipPath><clipPath id="clipb"><path d="M25 917.7H145V822.2H733.3V917.7H987.1V1609.9H25Z"/></clipPath><filter id="dispb" x="15" y="812.2" width="982.1" height="807.7" filterUnits="userSpaceOnUse" color-interpolation-filters="sRGB"><feTurbulence type="fractalNoise" baseFrequency="0.01" numOctaves="2" seed="98" result="t"/><feDisplacementMap in="SourceGraphic" in2="t" scale="30" xChannelSelector="R" yChannelSelector="G"/><feGaussianBlur stdDeviation="0.9"/></filter><filter id="fc0" x="-3" y="1607" width="1022" height="848" filterUnits="userSpaceOnUse" color-interpolation-filters="sRGB"><feTurbulence type="fractalNoise" baseFrequency="0.024 0.036" numOctaves="2" seed="5"/><feComponentTransfer><feFuncR type="discrete" tableValues="0 1"/><feFuncG type="discrete" tableValues="0 1"/><feFuncB type="discrete" tableValues="0 1"/><feFuncA type="table" tableValues="1 1"/></feComponentTransfer><feColorMatrix type="matrix" values="0.5 0.25 0.125 0 0 0.5 0.25 0.125 0 0 0.5 0.25 0.125 0 0 0 0 0 0 1" result="i1"/><feTurbulence type="fractalNoise" baseFrequency="0.024 0.036" numOctaves="2" seed="1005"/><feComponentTransfer><feFuncR type="discrete" tableValues="0 1"/><feFuncG type="discrete" tableValues="0 1"/><feFuncA type="table" tableValues="1 1"/></feComponentTransfer><feColorMatrix type="matrix" values="0.0625 0.03125 0 0 0 0.0625 0.03125 0 0 0 0.0625 0.03125 0 0 0 0 0 0 0 1" result="i2"/><feComposite in="i1" in2="i2" operator="arithmetic" k1="0" k2="1" k3="1" k4="0.015625"/><feComponentTransfer><feFuncR type="discrete" tableValues="1.000 0.157 0.157 1.000 0.745 0.078 0.667 0.549 0.118 0.078 0.118 0.745 1.000 0.118 0.549 0.667 0.784 1.000 1.000 1.000 1.000 0.549 1.000 0.961 0.118 0.784 0.431 0.471 0.431 0.157 0.471 0.118"/><feFuncG type="discrete" tableValues="0.706 1.000 0.235 0.431 0.314 1.000 1.000 0.235 0.667 1.000 0.667 1.000 0.922 0.941 1.000 1.000 0.627 0.431 0.157 0.196 0.980 1.000 0.392 0.961 0.667 0.627 0.431 0.667 0.431 1.000 0.667 0.941"/><feFuncB type="discrete" tableValues="0.902 0.549 1.000 0.863 1.000 0.078 0.980 1.000 1.000 0.078 1.000 0.235 0.118 1.000 0.745 0.549 1.000 0.863 1.000 0.627 0.627 0.745 0.588 1.000 1.000 1.000 1.000 1.000 1.000 0.549 1.000 1.000"/></feComponentTransfer></filter><filter id="fc1" x="-7" y="1678" width="625" height="439" filterUnits="userSpaceOnUse" color-interpolation-filters="sRGB"><feTurbulence type="fractalNoise" baseFrequency="0.0085 0.0125" numOctaves="2" seed="22"/><feComponentTransfer><feFuncR type="discrete" tableValues="0 1"/><feFuncG type="discrete" tableValues="0 1"/><feFuncB type="discrete" tableValues="0 1"/><feFuncA type="table" tableValues="1 1"/></feComponentTransfer><feColorMatrix type="matrix" values="0.5 0.25 0.125 0 0 0.5 0.25 0.125 0 0 0.5 0.25 0.125 0 0 0 0 0 0 1" result="i1"/><feTurbulence type="fractalNoise" baseFrequency="0.0085 0.0125" numOctaves="2" seed="1022"/><feComponentTransfer><feFuncR type="discrete" tableValues="0 1"/><feFuncG type="discrete" tableValues="0 1"/><feFuncA type="table" tableValues="1 1"/></feComponentTransfer><feColorMatrix type="matrix" values="0.0625 0.03125 0 0 0 0.0625 0.03125 0 0 0 0.0625 0.03125 0 0 0 0 0 0 0 1" result="i2"/><feComposite in="i1" in2="i2" operator="arithmetic" k1="0" k2="1" k3="1" k4="0.015625"/><feComponentTransfer><feFuncR type="discrete" tableValues="0.471 0.745 0.745 1.000 0.078 0.745 0.745 0.118 0.431 0.549 0.118 1.000 0.471 0.078 1.000 1.000 0.549 0.157 0.667 0.667 0.118 0.549 0.157 1.000 0.118 1.000 0.118 0.784 0.157 0.157 0.118 0.431"/><feFuncG type="discrete" tableValues="0.667 0.314 0.314 0.392 1.000 1.000 1.000 0.667 0.431 1.000 0.941 0.431 0.667 1.000 0.706 0.922 0.235 0.235 1.000 1.000 0.667 0.235 1.000 0.157 0.667 0.431 0.667 0.627 1.000 0.235 0.941 0.431"/><feFuncB type="discrete" tableValues="1.000 1.000 1.000 0.588 0.078 0.235 0.235 1.000 1.000 0.745 1.000 0.863 1.000 0.078 0.902 0.118 1.000 1.000 0.549 0.980 1.000 1.000 0.549 1.000 1.000 0.863 1.000 1.000 0.549 1.000 1.000 1.000"/></feComponentTransfer></filter><clipPath id="cpfc1"><path d="M0.0 1733.0 L30.8 1725.0 L61.7 1737.6 L92.5 1736.2 L123.4 1732.5 L154.2 1726.2 L185.1 1740.0 L215.9 1740.4 L246.7 1733.3 L277.6 1733.1 L308.4 1726.7 L339.3 1721.1 L370.1 1729.9 L400.9 1735.0 L431.8 1722.7 L462.6 1740.1 L493.5 1726.6 L524.3 1726.6 L555.2 1722.0 L586.0 1733.0 L574.1 1763.6 L580.3 1794.2 L577.0 1824.8 L583.2 1855.3 L597.2 1885.9 L590.1 1916.5 L586.1 1947.1 L595.2 1977.7 L575.2 2008.2 L589.2 2038.8 L594.3 2069.4 L586.0 2100.0 L555.2 2092.4 L524.3 2109.0 L493.5 2089.7 L462.6 2101.1 L431.8 2098.8 L400.9 2103.8 L370.1 2100.4 L339.3 2107.5 L308.4 2111.1 L277.6 2091.2 L246.7 2106.4 L215.9 2093.3 L185.1 2107.0 L154.2 2088.7 L123.4 2090.5 L92.5 2093.9 L61.7 2093.7 L30.8 2098.1 L0.0 2100.0 L5.5 2069.4 L-9.1 2038.8 L-0.6 2008.2 L7.8 1977.7 L-7.2 1947.1 L10.2 1916.5 L9.3 1885.9 L-2.2 1855.3 L-3.2 1824.8 L-1.2 1794.2 L-2.7 1763.6Z"/></clipPath><filter id="fcn" x="201" y="1556" width="623" height="230" filterUnits="userSpaceOnUse" color-interpolation-filters="sRGB"><feTurbulence type="fractalNoise" baseFrequency="0.018 0.026" numOctaves="2" seed="32"/><feComponentTransfer><feFuncR type="discrete" tableValues="0 1"/><feFuncG type="discrete" tableValues="0 1"/><feFuncB type="discrete" tableValues="0 1"/><feFuncA type="table" tableValues="1 1"/></feComponentTransfer><feColorMatrix type="matrix" values="0.5 0.25 0.125 0 0 0.5 0.25 0.125 0 0 0.5 0.25 0.125 0 0 0 0 0 0 1" result="i1"/><feTurbulence type="fractalNoise" baseFrequency="0.018 0.026" numOctaves="2" seed="1032"/><feComponentTransfer><feFuncR type="discrete" tableValues="0 1"/><feFuncG type="discrete" tableValues="0 1"/><feFuncA type="table" tableValues="1 1"/></feComponentTransfer><feColorMatrix type="matrix" values="0.0625 0.03125 0 0 0 0.0625 0.03125 0 0 0 0.0625 0.03125 0 0 0 0 0 0 0 1" result="i2"/><feComposite in="i1" in2="i2" operator="arithmetic" k1="0" k2="1" k3="1" k4="0.015625"/><feComponentTransfer><feFuncR type="discrete" tableValues="1.000 0.745 1.000 0.667 0.078 0.078 0.784 0.745 0.745 0.549 0.118 0.431 1.000 1.000 0.118 0.745 0.157 1.000 0.157 0.471 0.549 0.118 0.157 0.157 0.471 0.118 1.000 0.431 0.667 0.118 0.549 0.118"/><feFuncG type="discrete" tableValues="0.392 0.314 0.431 1.000 1.000 1.000 0.627 1.000 0.314 0.235 0.667 0.431 0.157 0.706 0.667 1.000 1.000 0.922 1.000 0.667 0.235 0.667 0.235 0.235 0.667 0.941 0.431 0.431 1.000 0.941 1.000 0.667"/><feFuncB type="discrete" tableValues="0.588 1.000 0.863 0.980 0.078 0.078 1.000 0.235 1.000 1.000 1.000 1.000 1.000 0.902 1.000 0.235 0.549 0.118 0.549 1.000 1.000 1.000 1.000 1.000 1.000 1.000 0.863 1.000 0.549 1.000 0.745 1.000"/></feComponentTransfer></filter><clipPath id="cpfcn"><path d="M150.0 1620.0 L180.0 1608.3 L210.0 1610.7 L240.0 1617.4 L270.0 1624.4 L300.0 1611.3 L330.0 1610.7 L360.0 1613.6 L390.0 1626.2 L420.0 1611.5 L450.0 1625.8 L480.0 1623.9 L510.0 1611.3 L540.0 1620.9 L570.0 1618.7 L600.0 1617.9 L630.0 1631.9 L660.0 1610.2 L690.0 1608.5 L720.0 1630.6 L750.0 1620.0 L752.3 1657.7 L757.2 1695.3 L750.0 1733.0 L720.0 1737.1 L690.0 1736.2 L660.0 1722.1 L630.0 1740.0 L600.0 1739.8 L570.0 1731.0 L540.0 1731.9 L510.0 1722.1 L480.0 1724.9 L450.0 1736.5 L420.0 1740.1 L390.0 1724.9 L360.0 1721.3 L330.0 1744.3 L300.0 1727.4 L270.0 1724.2 L240.0 1729.4 L210.0 1739.8 L180.0 1725.9 L150.0 1733.0 L155.5 1695.3 L142.7 1657.7Z"/></clipPath><filter id="fc1b" x="-3" y="2082" width="595" height="142" filterUnits="userSpaceOnUse" color-interpolation-filters="sRGB"><feTurbulence type="fractalNoise" baseFrequency="0.016 0.022" numOctaves="2" seed="33"/><feComponentTransfer><feFuncR type="discrete" tableValues="0 1"/><feFuncG type="discrete" tableValues="0 1"/><feFuncB type="discrete" tableValues="0 1"/><feFuncA type="table" tableValues="1 1"/></feComponentTransfer><feColorMatrix type="matrix" values="0.5 0.25 0.125 0 0 0.5 0.25 0.125 0 0 0.5 0.25 0.125 0 0 0 0 0 0 1" result="i1"/><feTurbulence type="fractalNoise" baseFrequency="0.016 0.022" numOctaves="2" seed="1033"/><feComponentTransfer><feFuncR type="discrete" tableValues="0 1"/><feFuncG type="discrete" tableValues="0 1"/><feFuncA type="table" tableValues="1 1"/></feComponentTransfer><feColorMatrix type="matrix" values="0.0625 0.03125 0 0 0 0.0625 0.03125 0 0 0 0.0625 0.03125 0 0 0 0 0 0 0 1" result="i2"/><feComposite in="i1" in2="i2" operator="arithmetic" k1="0" k2="1" k3="1" k4="0.015625"/><feComponentTransfer><feFuncR type="discrete" tableValues="0.549 1.000 0.157 0.118 1.000 1.000 0.549 0.078 1.000 0.549 1.000 0.157 0.471 1.000 0.784 0.431 0.667 0.961 0.471 0.118 0.157 1.000 0.118 0.118 0.784 0.667 0.745 0.745 0.431 1.000 0.118 0.078"/><feFuncG type="discrete" tableValues="0.235 0.431 1.000 0.667 0.392 0.431 1.000 1.000 0.922 1.000 0.196 1.000 0.667 0.706 0.627 0.431 1.000 0.961 0.667 0.667 0.235 0.157 0.941 0.941 0.627 1.000 1.000 0.314 0.431 0.980 0.667 1.000"/><feFuncB type="discrete" tableValues="1.000 0.863 0.549 1.000 0.588 0.863 0.745 0.078 0.118 0.745 0.627 0.549 1.000 0.902 1.000 1.000 0.980 1.000 1.000 1.000 1.000 1.000 1.000 1.000 1.000 0.549 0.235 1.000 1.000 0.627 1.000 0.078"/></feComponentTransfer></filter><clipPath id="cpfc1b"><path d="M0.0 2100.0 L30.8 2089.9 L61.7 2093.1 L92.5 2095.3 L123.4 2109.6 L154.2 2099.9 L185.1 2105.3 L215.9 2090.4 L246.7 2100.2 L277.6 2108.2 L308.4 2100.5 L339.3 2110.7 L370.1 2109.2 L400.9 2096.9 L431.8 2088.0 L462.6 2106.1 L493.5 2091.0 L524.3 2088.2 L555.2 2105.5 L586.0 2100.0 L577.8 2135.3 L577.9 2170.7 L586.0 2206.0 L555.2 2195.1 L524.3 2213.2 L493.5 2216.0 L462.6 2215.1 L431.8 2194.5 L400.9 2215.3 L370.1 2214.2 L339.3 2217.5 L308.4 2216.8 L277.6 2217.1 L246.7 2209.5 L215.9 2214.1 L185.1 2210.6 L154.2 2195.7 L123.4 2214.0 L92.5 2198.5 L61.7 2200.3 L30.8 2204.4 L0.0 2206.0 L1.8 2170.7 L6.5 2135.3Z"/></clipPath><filter id="fc2" x="535" y="1929" width="491" height="414" filterUnits="userSpaceOnUse" color-interpolation-filters="sRGB"><feTurbulence type="fractalNoise" baseFrequency="0.024 0.009" numOctaves="2" seed="23"/><feComponentTransfer><feFuncR type="discrete" tableValues="0 1"/><feFuncG type="discrete" tableValues="0 1"/><feFuncB type="discrete" tableValues="0 1"/><feFuncA type="table" tableValues="1 1"/></feComponentTransfer><feColorMatrix type="matrix" values="0.5 0.25 0.125 0 0 0.5 0.25 0.125 0 0 0.5 0.25 0.125 0 0 0 0 0 0 1" result="i1"/><feTurbulence type="fractalNoise" baseFrequency="0.024 0.009" numOctaves="2" seed="1023"/><feComponentTransfer><feFuncR type="discrete" tableValues="0 1"/><feFuncG type="discrete" tableValues="0 1"/><feFuncA type="table" tableValues="1 1"/></feComponentTransfer><feColorMatrix type="matrix" values="0.0625 0.03125 0 0 0 0.0625 0.03125 0 0 0 0.0625 0.03125 0 0 0 0 0 0 0 1" result="i2"/><feComposite in="i1" in2="i2" operator="arithmetic" k1="0" k2="1" k3="1" k4="0.015625"/><feComponentTransfer><feFuncR type="discrete" tableValues="0.745 0.784 0.667 0.784 1.000 1.000 0.471 0.157 0.118 0.431 0.471 1.000 0.471 0.118 0.431 1.000 0.745 0.667 1.000 1.000 1.000 0.078 0.118 0.157 0.549 1.000 0.961 1.000 1.000 0.549 0.745 0.118"/><feFuncG type="discrete" tableValues="1.000 0.627 1.000 0.627 0.196 0.431 0.667 0.235 0.667 0.431 0.667 0.510 0.667 0.941 0.431 0.706 0.314 1.000 0.157 0.431 0.784 1.000 0.941 1.000 1.000 0.980 0.961 0.588 0.392 0.235 0.314 0.667"/><feFuncB type="discrete" tableValues="0.235 1.000 0.980 1.000 0.627 0.863 1.000 1.000 1.000 1.000 1.000 0.471 1.000 1.000 1.000 0.902 1.000 0.549 1.000 0.863 0.745 0.078 1.000 0.549 0.745 0.627 1.000 0.235 0.588 1.000 1.000 1.000"/></feComponentTransfer></filter><clipPath id="cpfc2"><path d="M613.0 1860.0 L645.2 1871.0 L677.5 1851.4 L709.8 1848.6 L742.0 1872.0 L774.2 1852.4 L806.5 1850.9 L838.8 1863.6 L871.0 1856.3 L903.2 1869.3 L935.5 1853.6 L967.8 1871.0 L1000.0 1860.0 L1004.3 1890.0 L997.6 1920.0 L989.6 1950.0 L995.6 1980.0 L989.8 2010.0 L995.0 2040.0 L1010.8 2070.0 L1000.0 2100.0 L968.2 2090.8 L936.3 2097.9 L904.5 2104.5 L872.6 2107.4 L840.8 2091.6 L808.9 2098.0 L777.1 2089.5 L745.2 2093.4 L713.4 2088.9 L681.5 2098.4 L649.7 2095.2 L617.8 2097.3 L586.0 2100.0 L583.6 2069.4 L603.6 2041.2 L591.7 2009.5 L606.2 1980.8 L613.7 1951.2 L609.8 1920.4 L601.1 1889.0Z"/></clipPath><filter id="fc3" x="580" y="1719" width="428" height="174" filterUnits="userSpaceOnUse" color-interpolation-filters="sRGB"><feTurbulence type="fractalNoise" baseFrequency="0.034 0.036" numOctaves="2" seed="34"/><feComponentTransfer><feFuncR type="discrete" tableValues="0 1"/><feFuncG type="discrete" tableValues="0 1"/><feFuncB type="discrete" tableValues="0 1"/><feFuncA type="table" tableValues="1 1"/></feComponentTransfer><feColorMatrix type="matrix" values="0.5 0.25 0.125 0 0 0.5 0.25 0.125 0 0 0.5 0.25 0.125 0 0 0 0 0 0 1" result="i1"/><feTurbulence type="fractalNoise" baseFrequency="0.034 0.036" numOctaves="2" seed="1034"/><feComponentTransfer><feFuncR type="discrete" tableValues="0 1"/><feFuncG type="discrete" tableValues="0 1"/><feFuncA type="table" tableValues="1 1"/></feComponentTransfer><feColorMatrix type="matrix" values="0.0625 0.03125 0 0 0 0.0625 0.03125 0 0 0 0.0625 0.03125 0 0 0 0 0 0 0 1" result="i2"/><feComposite in="i1" in2="i2" operator="arithmetic" k1="0" k2="1" k3="1" k4="0.015625"/><feComponentTransfer><feFuncR type="discrete" tableValues="0.961 0.157 0.157 0.549 0.078 1.000 0.118 0.471 1.000 1.000 0.118 0.745 0.118 1.000 0.549 0.667 1.000 0.157 0.784 1.000 1.000 1.000 0.745 1.000 1.000 1.000 0.784 1.000 0.431 1.000 0.549 0.667"/><feFuncG type="discrete" tableValues="0.961 1.000 0.235 0.235 1.000 0.431 0.941 0.667 0.588 0.706 0.667 0.314 0.941 0.784 1.000 1.000 0.196 1.000 0.627 0.392 0.157 0.706 1.000 0.510 0.922 0.980 0.627 0.431 0.431 0.157 1.000 1.000"/><feFuncB type="discrete" tableValues="1.000 0.549 1.000 1.000 0.078 0.863 1.000 1.000 0.235 0.902 1.000 1.000 1.000 0.745 0.745 0.549 0.627 0.549 1.000 0.588 1.000 0.902 0.235 0.471 0.118 0.627 1.000 0.863 1.000 0.157 0.745 0.980"/></feComponentTransfer></filter><clipPath id="cpfc3"><path d="M586.0 1733.0 L617.8 1734.7 L649.7 1736.2 L681.5 1740.6 L713.4 1727.7 L745.2 1736.6 L777.1 1742.4 L808.9 1742.8 L840.8 1725.5 L872.6 1736.6 L904.5 1735.8 L936.3 1733.1 L968.2 1744.2 L1000.0 1733.0 L999.3 1764.8 L1001.3 1796.5 L989.4 1828.2 L1000.0 1860.0 L967.5 1859.0 L935.8 1869.3 L903.6 1871.3 L871.0 1869.1 L839.5 1882.0 L806.3 1870.9 L773.9 1870.1 L742.1 1879.8 L709.2 1872.0 L676.8 1872.3 L645.2 1883.4 L613.0 1887.0 L611.9 1855.4 L593.2 1827.0 L586.3 1796.4 L602.7 1761.8Z"/></clipPath><clipPath id="clipc"><path d="M27.3 1733H162V1637.5H736.6V1733H988.8V2424.3H27.3Z"/></clipPath><filter id="dispc" x="17.3" y="1627.5" width="981.5" height="806.8000000000002" filterUnits="userSpaceOnUse" color-interpolation-filters="sRGB"><feTurbulence type="fractalNoise" baseFrequency="0.01" numOctaves="2" seed="99" result="t"/><feDisplacementMap in="SourceGraphic" in2="t" scale="30" xChannelSelector="R" yChannelSelector="G"/><feGaussianBlur stdDeviation="0.9"/></filter><linearGradient id="t0" x1="0" x2="1" y1="0" y2="0"><stop offset="0.000" stop-color="#0800ff"/><stop offset="0.167" stop-color="#0702ff"/><stop offset="0.333" stop-color="#0604ff"/><stop offset="0.500" stop-color="#0505ff"/><stop offset="0.667" stop-color="#0306ff"/><stop offset="0.833" stop-color="#0207ff"/><stop offset="1.000" stop-color="#0008ff"/></linearGradient><linearGradient id="t1" x1="0" x2="1" y1="0" y2="0"><stop offset="0.000" stop-color="#0e00ff"/><stop offset="0.167" stop-color="#0c04ff"/><stop offset="0.333" stop-color="#0a07ff"/><stop offset="0.500" stop-color="#0809ff"/><stop offset="0.667" stop-color="#060bff"/><stop offset="0.833" stop-color="#040dff"/><stop offset="1.000" stop-color="#000fff"/></linearGradient><linearGradient id="t2" x1="0" x2="1" y1="0" y2="0"><stop offset="0.000" stop-color="#1300ff"/><stop offset="0.167" stop-color="#1105ff"/><stop offset="0.333" stop-color="#0e09ff"/><stop offset="0.500" stop-color="#0c0cff"/><stop offset="0.667" stop-color="#090fff"/><stop offset="0.833" stop-color="#0512ff"/><stop offset="1.000" stop-color="#0015ff"/></linearGradient><linearGradient id="t3" x1="0" x2="1" y1="0" y2="0"><stop offset="0.000" stop-color="#1800ff"/><stop offset="0.167" stop-color="#1507ff"/><stop offset="0.333" stop-color="#120cff"/><stop offset="0.500" stop-color="#0f10ff"/><stop offset="0.667" stop-color="#0b13ff"/><stop offset="0.833" stop-color="#0617ff"/><stop offset="1.000" stop-color="#001aff"/></linearGradient><linearGradient id="t4" x1="0" x2="1" y1="0" y2="0"><stop offset="0.000" stop-color="#1d00ff"/><stop offset="0.167" stop-color="#1a08ff"/><stop offset="0.333" stop-color="#160eff"/><stop offset="0.500" stop-color="#1113ff"/><stop offset="0.667" stop-color="#0d17ff"/><stop offset="0.833" stop-color="#081bff"/><stop offset="1.000" stop-color="#0020ff"/></linearGradient><linearGradient id="t5" x1="0" x2="1" y1="0" y2="0"><stop offset="0.000" stop-color="#2200ff"/><stop offset="0.167" stop-color="#1e0aff"/><stop offset="0.333" stop-color="#1910ff"/><stop offset="0.500" stop-color="#1416ff"/><stop offset="0.667" stop-color="#0f1bff"/><stop offset="0.833" stop-color="#0920ff"/><stop offset="1.000" stop-color="#0025ff"/></linearGradient><linearGradient id="t6" x1="0" x2="1" y1="0" y2="0"><stop offset="0.000" stop-color="#2600ff"/><stop offset="0.167" stop-color="#220bff"/><stop offset="0.333" stop-color="#1c12ff"/><stop offset="0.500" stop-color="#1719ff"/><stop offset="0.667" stop-color="#111fff"/><stop offset="0.833" stop-color="#0a24ff"/><stop offset="1.000" stop-color="#002aff"/></linearGradient><linearGradient id="t7" x1="0" x2="1" y1="0" y2="0"><stop offset="0.000" stop-color="#2b00ff"/><stop offset="0.167" stop-color="#260cff"/><stop offset="0.333" stop-color="#2014ff"/><stop offset="0.500" stop-color="#1a1cff"/><stop offset="0.667" stop-color="#1322ff"/><stop offset="0.833" stop-color="#0b29ff"/><stop offset="1.000" stop-color="#002eff"/></linearGradient><linearGradient id="t8" x1="0" x2="1" y1="0" y2="0"><stop offset="0.000" stop-color="#2f00ff"/><stop offset="0.167" stop-color="#290dff"/><stop offset="0.333" stop-color="#2316ff"/><stop offset="0.500" stop-color="#1c1eff"/><stop offset="0.667" stop-color="#1526ff"/><stop offset="0.833" stop-color="#0d2dff"/><stop offset="1.000" stop-color="#0033ff"/></linearGradient><linearGradient id="t9" x1="0" x2="1" y1="0" y2="0"><stop offset="0.000" stop-color="#3400ff"/><stop offset="0.167" stop-color="#2d0fff"/><stop offset="0.333" stop-color="#2619ff"/><stop offset="0.500" stop-color="#1f21ff"/><stop offset="0.667" stop-color="#1729ff"/><stop offset="0.833" stop-color="#0e31ff"/><stop offset="1.000" stop-color="#0038ff"/></linearGradient><linearGradient id="t10" x1="0" x2="1" y1="0" y2="0"><stop offset="0.000" stop-color="#3800ff"/><stop offset="0.167" stop-color="#3110ff"/><stop offset="0.333" stop-color="#2a1bff"/><stop offset="0.500" stop-color="#2224ff"/><stop offset="0.667" stop-color="#192dff"/><stop offset="0.833" stop-color="#0f35ff"/><stop offset="1.000" stop-color="#003dff"/></linearGradient><linearGradient id="t11" x1="0" x2="1" y1="0" y2="0"><stop offset="0.000" stop-color="#3d00ff"/><stop offset="0.167" stop-color="#3511ff"/><stop offset="0.333" stop-color="#2d1dff"/><stop offset="0.500" stop-color="#2427ff"/><stop offset="0.667" stop-color="#1b31ff"/><stop offset="0.833" stop-color="#1039ff"/><stop offset="1.000" stop-color="#0042ff"/></linearGradient><linearGradient id="t12" x1="0" x2="1" y1="0" y2="0"><stop offset="0.000" stop-color="#4100ff"/><stop offset="0.167" stop-color="#3912ff"/><stop offset="0.333" stop-color="#301fff"/><stop offset="0.500" stop-color="#272aff"/><stop offset="0.667" stop-color="#1d34ff"/><stop offset="0.833" stop-color="#113eff"/><stop offset="1.000" stop-color="#0047ff"/></linearGradient><linearGradient id="t13" x1="0" x2="1" y1="0" y2="0"><stop offset="0.000" stop-color="#4500ff"/><stop offset="0.167" stop-color="#3d14ff"/><stop offset="0.333" stop-color="#3421ff"/><stop offset="0.500" stop-color="#2a2dff"/><stop offset="0.667" stop-color="#1f38ff"/><stop offset="0.833" stop-color="#1242ff"/><stop offset="1.000" stop-color="#004cff"/></linearGradient><linearGradient id="t14" x1="0" x2="1" y1="0" y2="0"><stop offset="0.000" stop-color="#4a00ff"/><stop offset="0.167" stop-color="#4115ff"/><stop offset="0.333" stop-color="#3723ff"/><stop offset="0.500" stop-color="#2c30ff"/><stop offset="0.667" stop-color="#213bff"/><stop offset="0.833" stop-color="#1446ff"/><stop offset="1.000" stop-color="#0050ff"/></linearGradient><linearGradient id="t15" x1="0" x2="1" y1="0" y2="0"><stop offset="0.000" stop-color="#4e00ff"/><stop offset="0.167" stop-color="#4516ff"/><stop offset="0.333" stop-color="#3a25ff"/><stop offset="0.500" stop-color="#2f33ff"/><stop offset="0.667" stop-color="#233fff"/><stop offset="0.833" stop-color="#154aff"/><stop offset="1.000" stop-color="#0055ff"/></linearGradient><linearGradient id="t16" x1="0" x2="1" y1="0" y2="0"><stop offset="0.000" stop-color="#5300ff"/><stop offset="0.167" stop-color="#4917ff"/><stop offset="0.333" stop-color="#3e28ff"/><stop offset="0.500" stop-color="#3236ff"/><stop offset="0.667" stop-color="#2543ff"/><stop offset="0.833" stop-color="#164fff"/><stop offset="1.000" stop-color="#005aff"/></linearGradient><linearGradient id="t17" x1="0" x2="1" y1="0" y2="0"><stop offset="0.000" stop-color="#5700ff"/><stop offset="0.167" stop-color="#4d19ff"/><stop offset="0.333" stop-color="#412aff"/><stop offset="0.500" stop-color="#3539ff"/><stop offset="0.667" stop-color="#2746ff"/><stop offset="0.833" stop-color="#1753ff"/><stop offset="1.000" stop-color="#0060ff"/></linearGradient><linearGradient id="t18" x1="0" x2="1" y1="0" y2="0"><stop offset="0.000" stop-color="#5c00ff"/><stop offset="0.167" stop-color="#511aff"/><stop offset="0.333" stop-color="#442cff"/><stop offset="0.500" stop-color="#373cff"/><stop offset="0.667" stop-color="#294aff"/><stop offset="0.833" stop-color="#1958ff"/><stop offset="1.000" stop-color="#0065ff"/></linearGradient><linearGradient id="t19" x1="0" x2="1" y1="0" y2="0"><stop offset="0.000" stop-color="#6100ff"/><stop offset="0.167" stop-color="#551bff"/><stop offset="0.333" stop-color="#482eff"/><stop offset="0.500" stop-color="#3a3fff"/><stop offset="0.667" stop-color="#2b4eff"/><stop offset="0.833" stop-color="#1a5cff"/><stop offset="1.000" stop-color="#006aff"/></linearGradient><linearGradient id="t20" x1="0" x2="1" y1="0" y2="0"><stop offset="0.000" stop-color="#6500ff"/><stop offset="0.167" stop-color="#591dff"/><stop offset="0.333" stop-color="#4c31ff"/><stop offset="0.500" stop-color="#3d42ff"/><stop offset="0.667" stop-color="#2d52ff"/><stop offset="0.833" stop-color="#1b61ff"/><stop offset="1.000" stop-color="#006fff"/></linearGradient><linearGradient id="t21" x1="0" x2="1" y1="0" y2="0"><stop offset="0.000" stop-color="#6a00ff"/><stop offset="0.167" stop-color="#5d1eff"/><stop offset="0.333" stop-color="#4f33ff"/><stop offset="0.500" stop-color="#4045ff"/><stop offset="0.667" stop-color="#3056ff"/><stop offset="0.833" stop-color="#1c65ff"/><stop offset="1.000" stop-color="#0075ff"/></linearGradient><linearGradient id="t22" x1="0" x2="1" y1="0" y2="0"><stop offset="0.000" stop-color="#6f00ff"/><stop offset="0.167" stop-color="#6120ff"/><stop offset="0.333" stop-color="#5335ff"/><stop offset="0.500" stop-color="#4348ff"/><stop offset="0.667" stop-color="#325aff"/><stop offset="0.833" stop-color="#1e6aff"/><stop offset="1.000" stop-color="#007aff"/></linearGradient><linearGradient id="t23" x1="0" x2="1" y1="0" y2="0"><stop offset="0.000" stop-color="#7400ff"/><stop offset="0.167" stop-color="#6621ff"/><stop offset="0.333" stop-color="#5738ff"/><stop offset="0.500" stop-color="#464cff"/><stop offset="0.667" stop-color="#345eff"/><stop offset="0.833" stop-color="#1f6fff"/><stop offset="1.000" stop-color="#0080ff"/></linearGradient><linearGradient id="t24" x1="0" x2="1" y1="0" y2="0"><stop offset="0.000" stop-color="#7900ff"/><stop offset="0.167" stop-color="#6a23ff"/><stop offset="0.333" stop-color="#5a3aff"/><stop offset="0.500" stop-color="#494fff"/><stop offset="0.667" stop-color="#3662ff"/><stop offset="0.833" stop-color="#2174ff"/><stop offset="1.000" stop-color="#0085ff"/></linearGradient><linearGradient id="t25" x1="0" x2="1" y1="0" y2="0"><stop offset="0.000" stop-color="#7e00ff"/><stop offset="0.167" stop-color="#6f24ff"/><stop offset="0.333" stop-color="#5e3dff"/><stop offset="0.500" stop-color="#4c52ff"/><stop offset="0.667" stop-color="#3966ff"/><stop offset="0.833" stop-color="#2279ff"/><stop offset="1.000" stop-color="#008bff"/></linearGradient><linearGradient id="t26" x1="0" x2="1" y1="0" y2="0"><stop offset="0.000" stop-color="#8400ff"/><stop offset="0.167" stop-color="#7326ff"/><stop offset="0.333" stop-color="#623fff"/><stop offset="0.500" stop-color="#5056ff"/><stop offset="0.667" stop-color="#3b6bff"/><stop offset="0.833" stop-color="#237eff"/><stop offset="1.000" stop-color="#0091ff"/></linearGradient><linearGradient id="t27" x1="0" x2="1" y1="0" y2="0"><stop offset="0.000" stop-color="#8900ff"/><stop offset="0.167" stop-color="#7827ff"/><stop offset="0.333" stop-color="#6642ff"/><stop offset="0.500" stop-color="#5359ff"/><stop offset="0.667" stop-color="#3e6fff"/><stop offset="0.833" stop-color="#2583ff"/><stop offset="1.000" stop-color="#0097ff"/></linearGradient><linearGradient id="t28" x1="0" x2="1" y1="0" y2="0"><stop offset="0.000" stop-color="#8e00ff"/><stop offset="0.167" stop-color="#7d29ff"/><stop offset="0.333" stop-color="#6a44ff"/><stop offset="0.500" stop-color="#565dff"/><stop offset="0.667" stop-color="#4073ff"/><stop offset="0.833" stop-color="#2689ff"/><stop offset="1.000" stop-color="#009dff"/></linearGradient><linearGradient id="t29" x1="0" x2="1" y1="0" y2="0"><stop offset="0.000" stop-color="#9400ff"/><stop offset="0.167" stop-color="#822aff"/><stop offset="0.333" stop-color="#6e47ff"/><stop offset="0.500" stop-color="#5a61ff"/><stop offset="0.667" stop-color="#4378ff"/><stop offset="0.833" stop-color="#288eff"/><stop offset="1.000" stop-color="#00a3ff"/></linearGradient><linearGradient id="t30" x1="0" x2="1" y1="0" y2="0"><stop offset="0.000" stop-color="#9a00ff"/><stop offset="0.167" stop-color="#872cff"/><stop offset="0.333" stop-color="#734aff"/><stop offset="0.500" stop-color="#5d64ff"/><stop offset="0.667" stop-color="#457dff"/><stop offset="0.833" stop-color="#2994ff"/><stop offset="1.000" stop-color="#00aaff"/></linearGradient><linearGradient id="t31" x1="0" x2="1" y1="0" y2="0"><stop offset="0.000" stop-color="#a000ff"/><stop offset="0.167" stop-color="#8c2eff"/><stop offset="0.333" stop-color="#774dff"/><stop offset="0.500" stop-color="#6168ff"/><stop offset="0.667" stop-color="#4882ff"/><stop offset="0.833" stop-color="#2b9aff"/><stop offset="1.000" stop-color="#00b0ff"/></linearGradient><linearGradient id="t32" x1="0" x2="1" y1="0" y2="0"><stop offset="0.000" stop-color="#a600ff"/><stop offset="0.167" stop-color="#912fff"/><stop offset="0.333" stop-color="#7c50ff"/><stop offset="0.500" stop-color="#646cff"/><stop offset="0.667" stop-color="#4b87ff"/><stop offset="0.833" stop-color="#2da0ff"/><stop offset="1.000" stop-color="#00b7ff"/></linearGradient><linearGradient id="t33" x1="0" x2="1" y1="0" y2="0"><stop offset="0.000" stop-color="#ac00ff"/><stop offset="0.167" stop-color="#9731ff"/><stop offset="0.333" stop-color="#8053ff"/><stop offset="0.500" stop-color="#6870ff"/><stop offset="0.667" stop-color="#4d8cff"/><stop offset="0.833" stop-color="#2ea6ff"/><stop offset="1.000" stop-color="#00beff"/></linearGradient><linearGradient id="t34" x1="0" x2="1" y1="0" y2="0"><stop offset="0.000" stop-color="#b200ff"/><stop offset="0.167" stop-color="#9c33ff"/><stop offset="0.333" stop-color="#8556ff"/><stop offset="0.500" stop-color="#6c75ff"/><stop offset="0.667" stop-color="#5091ff"/><stop offset="0.833" stop-color="#30acff"/><stop offset="1.000" stop-color="#00c5ff"/></linearGradient><linearGradient id="t35" x1="0" x2="1" y1="0" y2="0"><stop offset="0.000" stop-color="#b900ff"/><stop offset="0.167" stop-color="#a235ff"/><stop offset="0.333" stop-color="#8a59ff"/><stop offset="0.500" stop-color="#7079ff"/><stop offset="0.667" stop-color="#5396ff"/><stop offset="0.833" stop-color="#32b2ff"/><stop offset="1.000" stop-color="#00cdff"/></linearGradient><linearGradient id="t36" x1="0" x2="1" y1="0" y2="0"><stop offset="0.000" stop-color="#c000ff"/><stop offset="0.167" stop-color="#a837ff"/><stop offset="0.333" stop-color="#8f5cff"/><stop offset="0.500" stop-color="#747dff"/><stop offset="0.667" stop-color="#569cff"/><stop offset="0.833" stop-color="#34b9ff"/><stop offset="1.000" stop-color="#00d4ff"/></linearGradient><linearGradient id="t37" x1="0" x2="1" y1="0" y2="0"><stop offset="0.000" stop-color="#c700ff"/><stop offset="0.167" stop-color="#ae39ff"/><stop offset="0.333" stop-color="#9460ff"/><stop offset="0.500" stop-color="#7882ff"/><stop offset="0.667" stop-color="#5aa2ff"/><stop offset="0.833" stop-color="#36c0ff"/><stop offset="1.000" stop-color="#00dcff"/></linearGradient><linearGradient id="t38" x1="0" x2="1" y1="0" y2="0"><stop offset="0.000" stop-color="#ce00ff"/><stop offset="0.167" stop-color="#b53bff"/><stop offset="0.333" stop-color="#9a63ff"/><stop offset="0.500" stop-color="#7d87ff"/><stop offset="0.667" stop-color="#5da8ff"/><stop offset="0.833" stop-color="#38c7ff"/><stop offset="1.000" stop-color="#00e4ff"/></linearGradient><linearGradient id="t39" x1="0" x2="1" y1="0" y2="0"><stop offset="0.000" stop-color="#d500ff"/><stop offset="0.167" stop-color="#bb3dff"/><stop offset="0.333" stop-color="#9f67ff"/><stop offset="0.500" stop-color="#818cff"/><stop offset="0.667" stop-color="#60aeff"/><stop offset="0.833" stop-color="#3aceff"/><stop offset="1.000" stop-color="#00edff"/></linearGradient><linearGradient id="t40" x1="0" x2="1" y1="0" y2="0"><stop offset="0.000" stop-color="#dd00ff"/><stop offset="0.167" stop-color="#c23fff"/><stop offset="0.333" stop-color="#a56bff"/><stop offset="0.500" stop-color="#8691ff"/><stop offset="0.667" stop-color="#64b4ff"/><stop offset="0.833" stop-color="#3cd5ff"/><stop offset="1.000" stop-color="#00f5ff"/></linearGradient><linearGradient id="t41" x1="0" x2="1" y1="0" y2="0"><stop offset="0.000" stop-color="#e500ff"/><stop offset="0.167" stop-color="#c942ff"/><stop offset="0.333" stop-color="#ab6fff"/><stop offset="0.500" stop-color="#8b96ff"/><stop offset="0.667" stop-color="#67bbff"/><stop offset="0.833" stop-color="#3eddff"/><stop offset="1.000" stop-color="#00feff"/></linearGradient><linearGradient id="t42" x1="0" x2="1" y1="0" y2="0"><stop offset="0.000" stop-color="#ed00ff"/><stop offset="0.167" stop-color="#d044ff"/><stop offset="0.333" stop-color="#b173ff"/><stop offset="0.500" stop-color="#909cff"/><stop offset="0.667" stop-color="#6bc1ff"/><stop offset="0.833" stop-color="#40e5ff"/><stop offset="1.000" stop-color="#00fff7"/></linearGradient><linearGradient id="t43" x1="0" x2="1" y1="0" y2="0"><stop offset="0.000" stop-color="#f600ff"/><stop offset="0.167" stop-color="#d846ff"/><stop offset="0.333" stop-color="#b777ff"/><stop offset="0.500" stop-color="#95a1ff"/><stop offset="0.667" stop-color="#6fc9ff"/><stop offset="0.833" stop-color="#43eeff"/><stop offset="1.000" stop-color="#00ffee"/></linearGradient><linearGradient id="t44" x1="0" x2="1" y1="0" y2="0"><stop offset="0.000" stop-color="#ff00ff"/><stop offset="0.167" stop-color="#df49ff"/><stop offset="0.333" stop-color="#be7bff"/><stop offset="0.500" stop-color="#9aa7ff"/><stop offset="0.667" stop-color="#73d0ff"/><stop offset="0.833" stop-color="#45f6ff"/><stop offset="1.000" stop-color="#00ffe5"/></linearGradient><linearGradient id="t45" x1="0" x2="1" y1="0" y2="0"><stop offset="0.000" stop-color="#ff00f6"/><stop offset="0.167" stop-color="#e74cff"/><stop offset="0.333" stop-color="#c57fff"/><stop offset="0.500" stop-color="#a0adff"/><stop offset="0.667" stop-color="#77d7ff"/><stop offset="0.833" stop-color="#47ffff"/><stop offset="1.000" stop-color="#00ffdd"/></linearGradient><linearGradient id="t46" x1="0" x2="1" y1="0" y2="0"><stop offset="0.000" stop-color="#ff00ed"/><stop offset="0.167" stop-color="#f04eff"/><stop offset="0.333" stop-color="#cc84ff"/><stop offset="0.500" stop-color="#a6b4ff"/><stop offset="0.667" stop-color="#7bdfff"/><stop offset="0.833" stop-color="#47fff5"/><stop offset="1.000" stop-color="#00ffd5"/></linearGradient><linearGradient id="t47" x1="0" x2="1" y1="0" y2="0"><stop offset="0.000" stop-color="#ff00e5"/><stop offset="0.167" stop-color="#f951ff"/><stop offset="0.333" stop-color="#d489ff"/><stop offset="0.500" stop-color="#acbaff"/><stop offset="0.667" stop-color="#80e8ff"/><stop offset="0.833" stop-color="#47ffed"/><stop offset="1.000" stop-color="#00ffce"/></linearGradient><linearGradient id="t48" x1="0" x2="1" y1="0" y2="0"><stop offset="0.000" stop-color="#ff00dd"/><stop offset="0.167" stop-color="#ff53fc"/><stop offset="0.333" stop-color="#db8eff"/><stop offset="0.500" stop-color="#b2c1ff"/><stop offset="0.667" stop-color="#85f0ff"/><stop offset="0.833" stop-color="#47ffe4"/><stop offset="1.000" stop-color="#00ffc6"/></linearGradient><linearGradient id="t49" x1="0" x2="1" y1="0" y2="0"><stop offset="0.000" stop-color="#ff00d5"/><stop offset="0.167" stop-color="#ff53f3"/><stop offset="0.333" stop-color="#e493ff"/><stop offset="0.500" stop-color="#b9c8ff"/><stop offset="0.667" stop-color="#8af9ff"/><stop offset="0.833" stop-color="#47ffdc"/><stop offset="1.000" stop-color="#00ffbf"/></linearGradient><linearGradient id="t50" x1="0" x2="1" y1="0" y2="0"><stop offset="0.000" stop-color="#ff00cd"/><stop offset="0.167" stop-color="#ff53ea"/><stop offset="0.333" stop-color="#ec99ff"/><stop offset="0.500" stop-color="#c0d0ff"/><stop offset="0.667" stop-color="#8dfffb"/><stop offset="0.833" stop-color="#47ffd4"/><stop offset="1.000" stop-color="#00ffb8"/></linearGradient><linearGradient id="t51" x1="0" x2="1" y1="0" y2="0"><stop offset="0.000" stop-color="#ff00c6"/><stop offset="0.167" stop-color="#ff53e2"/><stop offset="0.333" stop-color="#f59fff"/><stop offset="0.500" stop-color="#c7d8ff"/><stop offset="0.667" stop-color="#8dfff2"/><stop offset="0.833" stop-color="#47ffcc"/><stop offset="1.000" stop-color="#00ffb1"/></linearGradient><linearGradient id="t52" x1="0" x2="1" y1="0" y2="0"><stop offset="0.000" stop-color="#ff00be"/><stop offset="0.167" stop-color="#ff53d9"/><stop offset="0.333" stop-color="#ffa5ff"/><stop offset="0.500" stop-color="#cfe0ff"/><stop offset="0.667" stop-color="#8dffe9"/><stop offset="0.833" stop-color="#47ffc4"/><stop offset="1.000" stop-color="#00ffab"/></linearGradient><linearGradient id="t53" x1="0" x2="1" y1="0" y2="0"><stop offset="0.000" stop-color="#ff00b7"/><stop offset="0.167" stop-color="#ff53d1"/><stop offset="0.333" stop-color="#ffa5f6"/><stop offset="0.500" stop-color="#d7e9ff"/><stop offset="0.667" stop-color="#8cffe0"/><stop offset="0.833" stop-color="#47ffbd"/><stop offset="1.000" stop-color="#00ffa4"/></linearGradient><linearGradient id="t54" x1="0" x2="1" y1="0" y2="0"><stop offset="0.000" stop-color="#ff00b0"/><stop offset="0.167" stop-color="#ff53c9"/><stop offset="0.333" stop-color="#ffa5ed"/><stop offset="0.500" stop-color="#dff2ff"/><stop offset="0.667" stop-color="#8cffd8"/><stop offset="0.833" stop-color="#47ffb6"/><stop offset="1.000" stop-color="#00ff9e"/></linearGradient><linearGradient id="t55" x1="0" x2="1" y1="0" y2="0"><stop offset="0.000" stop-color="#ff00a9"/><stop offset="0.167" stop-color="#ff53c1"/><stop offset="0.333" stop-color="#ffa5e3"/><stop offset="0.500" stop-color="#e8fcff"/><stop offset="0.667" stop-color="#8cffcf"/><stop offset="0.833" stop-color="#47ffae"/><stop offset="1.000" stop-color="#00ff97"/></linearGradient><linearGradient id="t56" x1="0" x2="1" y1="0" y2="0"><stop offset="0.000" stop-color="#ff00a2"/><stop offset="0.167" stop-color="#ff54ba"/><stop offset="0.333" stop-color="#ffa5da"/><stop offset="0.500" stop-color="#ebfff8"/><stop offset="0.667" stop-color="#8cffc7"/><stop offset="0.833" stop-color="#47ffa8"/><stop offset="1.000" stop-color="#00ff91"/></linearGradient><linearGradient id="t57" x1="0" x2="1" y1="0" y2="0"><stop offset="0.000" stop-color="#ff009c"/><stop offset="0.167" stop-color="#ff54b2"/><stop offset="0.333" stop-color="#ffa6d2"/><stop offset="0.500" stop-color="#ebffee"/><stop offset="0.667" stop-color="#8cffbf"/><stop offset="0.833" stop-color="#47ffa1"/><stop offset="1.000" stop-color="#00ff8b"/></linearGradient><linearGradient id="t58" x1="0" x2="1" y1="0" y2="0"><stop offset="0.000" stop-color="#ff0095"/><stop offset="0.167" stop-color="#ff54ab"/><stop offset="0.333" stop-color="#ffa6c9"/><stop offset="0.500" stop-color="#ebffe4"/><stop offset="0.667" stop-color="#8cffb7"/><stop offset="0.833" stop-color="#47ff9a"/><stop offset="1.000" stop-color="#00ff86"/></linearGradient><linearGradient id="t59" x1="0" x2="1" y1="0" y2="0"><stop offset="0.000" stop-color="#ff008f"/><stop offset="0.167" stop-color="#ff54a4"/><stop offset="0.333" stop-color="#ffa6c1"/><stop offset="0.500" stop-color="#eaffda"/><stop offset="0.667" stop-color="#8cffaf"/><stop offset="0.833" stop-color="#47ff93"/><stop offset="1.000" stop-color="#00ff80"/></linearGradient><linearGradient id="t60" x1="0" x2="1" y1="0" y2="0"><stop offset="0.000" stop-color="#ff0089"/><stop offset="0.167" stop-color="#ff549d"/><stop offset="0.333" stop-color="#ffa6b8"/><stop offset="0.500" stop-color="#eaffd1"/><stop offset="0.667" stop-color="#8cffa8"/><stop offset="0.833" stop-color="#47ff8d"/><stop offset="1.000" stop-color="#00ff7a"/></linearGradient><linearGradient id="t61" x1="0" x2="1" y1="0" y2="0"><stop offset="0.000" stop-color="#ff0083"/><stop offset="0.167" stop-color="#ff5496"/><stop offset="0.333" stop-color="#ffa6b0"/><stop offset="0.500" stop-color="#eaffc7"/><stop offset="0.667" stop-color="#8cffa0"/><stop offset="0.833" stop-color="#47ff87"/><stop offset="1.000" stop-color="#00ff75"/></linearGradient><linearGradient id="t62" x1="0" x2="1" y1="0" y2="0"><stop offset="0.000" stop-color="#ff007d"/><stop offset="0.167" stop-color="#ff548f"/><stop offset="0.333" stop-color="#ffa6a8"/><stop offset="0.500" stop-color="#eaffbe"/><stop offset="0.667" stop-color="#8cff99"/><stop offset="0.833" stop-color="#47ff81"/><stop offset="1.000" stop-color="#00ff6f"/></linearGradient><linearGradient id="t63" x1="0" x2="1" y1="0" y2="0"><stop offset="0.000" stop-color="#ff0077"/><stop offset="0.167" stop-color="#ff5488"/><stop offset="0.333" stop-color="#ffa6a0"/><stop offset="0.500" stop-color="#eaffb5"/><stop offset="0.667" stop-color="#8cff91"/><stop offset="0.833" stop-color="#47ff7a"/><stop offset="1.000" stop-color="#00ff6a"/></linearGradient><linearGradient id="t64" x1="0" x2="1" y1="0" y2="0"><stop offset="0.000" stop-color="#ff0071"/><stop offset="0.167" stop-color="#ff5481"/><stop offset="0.333" stop-color="#ffa698"/><stop offset="0.500" stop-color="#eaffac"/><stop offset="0.667" stop-color="#8cff8a"/><stop offset="0.833" stop-color="#47ff74"/><stop offset="1.000" stop-color="#00ff65"/></linearGradient><linearGradient id="t65" x1="0" x2="1" y1="0" y2="0"><stop offset="0.000" stop-color="#ff006b"/><stop offset="0.167" stop-color="#ff547b"/><stop offset="0.333" stop-color="#ffa691"/><stop offset="0.500" stop-color="#eaffa4"/><stop offset="0.667" stop-color="#8cff83"/><stop offset="0.833" stop-color="#47ff6e"/><stop offset="1.000" stop-color="#00ff60"/></linearGradient><linearGradient id="t66" x1="0" x2="1" y1="0" y2="0"><stop offset="0.000" stop-color="#ff0066"/><stop offset="0.167" stop-color="#ff5474"/><stop offset="0.333" stop-color="#ffa689"/><stop offset="0.500" stop-color="#eaff9b"/><stop offset="0.667" stop-color="#8cff7c"/><stop offset="0.833" stop-color="#47ff69"/><stop offset="1.000" stop-color="#00ff5b"/></linearGradient><linearGradient id="t67" x1="0" x2="1" y1="0" y2="0"><stop offset="0.000" stop-color="#ff0060"/><stop offset="0.167" stop-color="#ff546e"/><stop offset="0.333" stop-color="#ffa681"/><stop offset="0.500" stop-color="#eaff92"/><stop offset="0.667" stop-color="#8cff75"/><stop offset="0.833" stop-color="#47ff63"/><stop offset="1.000" stop-color="#00ff56"/></linearGradient><linearGradient id="t68" x1="0" x2="1" y1="0" y2="0"><stop offset="0.000" stop-color="#ff005a"/><stop offset="0.167" stop-color="#ff5468"/><stop offset="0.333" stop-color="#ffa67a"/><stop offset="0.500" stop-color="#eaff8a"/><stop offset="0.667" stop-color="#8cff6e"/><stop offset="0.833" stop-color="#47ff5d"/><stop offset="1.000" stop-color="#00ff51"/></linearGradient><linearGradient id="t69" x1="0" x2="1" y1="0" y2="0"><stop offset="0.000" stop-color="#ff0055"/><stop offset="0.167" stop-color="#ff5461"/><stop offset="0.333" stop-color="#ffa673"/><stop offset="0.500" stop-color="#eaff81"/><stop offset="0.667" stop-color="#8bff68"/><stop offset="0.833" stop-color="#47ff57"/><stop offset="1.000" stop-color="#00ff4c"/></linearGradient><linearGradient id="t70" x1="0" x2="1" y1="0" y2="0"><stop offset="0.000" stop-color="#ff004f"/><stop offset="0.167" stop-color="#ff545b"/><stop offset="0.333" stop-color="#ffa66b"/><stop offset="0.500" stop-color="#eaff79"/><stop offset="0.667" stop-color="#8bff61"/><stop offset="0.833" stop-color="#47ff52"/><stop offset="1.000" stop-color="#00ff47"/></linearGradient><linearGradient id="t71" x1="0" x2="1" y1="0" y2="0"><stop offset="0.000" stop-color="#ff004a"/><stop offset="0.167" stop-color="#ff5455"/><stop offset="0.333" stop-color="#ffa664"/><stop offset="0.500" stop-color="#e9ff71"/><stop offset="0.667" stop-color="#8bff5a"/><stop offset="0.833" stop-color="#47ff4c"/><stop offset="1.000" stop-color="#00ff42"/></linearGradient><linearGradient id="t72" x1="0" x2="1" y1="0" y2="0"><stop offset="0.000" stop-color="#ff0044"/><stop offset="0.167" stop-color="#ff534e"/><stop offset="0.333" stop-color="#ffa65c"/><stop offset="0.500" stop-color="#e9ff68"/><stop offset="0.667" stop-color="#8bff54"/><stop offset="0.833" stop-color="#46ff46"/><stop offset="1.000" stop-color="#00ff3d"/></linearGradient><linearGradient id="t73" x1="0" x2="1" y1="0" y2="0"><stop offset="0.000" stop-color="#ff003f"/><stop offset="0.167" stop-color="#ff5348"/><stop offset="0.333" stop-color="#ffa655"/><stop offset="0.500" stop-color="#e9ff60"/><stop offset="0.667" stop-color="#8bff4d"/><stop offset="0.833" stop-color="#46ff41"/><stop offset="1.000" stop-color="#00ff38"/></linearGradient><linearGradient id="t74" x1="0" x2="1" y1="0" y2="0"><stop offset="0.000" stop-color="#ff0039"/><stop offset="0.167" stop-color="#ff5342"/><stop offset="0.333" stop-color="#ffa64e"/><stop offset="0.500" stop-color="#e9ff57"/><stop offset="0.667" stop-color="#8bff46"/><stop offset="0.833" stop-color="#46ff3b"/><stop offset="1.000" stop-color="#00ff33"/></linearGradient><linearGradient id="t75" x1="0" x2="1" y1="0" y2="0"><stop offset="0.000" stop-color="#ff0034"/><stop offset="0.167" stop-color="#ff533b"/><stop offset="0.333" stop-color="#ffa646"/><stop offset="0.500" stop-color="#e9ff4f"/><stop offset="0.667" stop-color="#8bff3f"/><stop offset="0.833" stop-color="#46ff35"/><stop offset="1.000" stop-color="#00ff2e"/></linearGradient><linearGradient id="t76" x1="0" x2="1" y1="0" y2="0"><stop offset="0.000" stop-color="#ff002e"/><stop offset="0.167" stop-color="#ff5335"/><stop offset="0.333" stop-color="#ffa63f"/><stop offset="0.500" stop-color="#e9ff47"/><stop offset="0.667" stop-color="#8bff38"/><stop offset="0.833" stop-color="#46ff2f"/><stop offset="1.000" stop-color="#00ff29"/></linearGradient><linearGradient id="t77" x1="0" x2="1" y1="0" y2="0"><stop offset="0.000" stop-color="#ff0028"/><stop offset="0.167" stop-color="#ff532f"/><stop offset="0.333" stop-color="#ffa637"/><stop offset="0.500" stop-color="#e9ff3e"/><stop offset="0.667" stop-color="#8bff32"/><stop offset="0.833" stop-color="#46ff2a"/><stop offset="1.000" stop-color="#00ff24"/></linearGradient><linearGradient id="t78" x1="0" x2="1" y1="0" y2="0"><stop offset="0.000" stop-color="#ff0023"/><stop offset="0.167" stop-color="#ff5328"/><stop offset="0.333" stop-color="#ffa62f"/><stop offset="0.500" stop-color="#e9ff35"/><stop offset="0.667" stop-color="#8bff2a"/><stop offset="0.833" stop-color="#46ff24"/><stop offset="1.000" stop-color="#00ff1f"/></linearGradient><linearGradient id="t79" x1="0" x2="1" y1="0" y2="0"><stop offset="0.000" stop-color="#ff001d"/><stop offset="0.167" stop-color="#ff5321"/><stop offset="0.333" stop-color="#ffa627"/><stop offset="0.500" stop-color="#e9ff2c"/><stop offset="0.667" stop-color="#8bff23"/><stop offset="0.833" stop-color="#46ff1d"/><stop offset="1.000" stop-color="#00ff19"/></linearGradient><linearGradient id="t80" x1="0" x2="1" y1="0" y2="0"><stop offset="0.000" stop-color="#ff0016"/><stop offset="0.167" stop-color="#ff531a"/><stop offset="0.333" stop-color="#ffa61e"/><stop offset="0.500" stop-color="#e9ff22"/><stop offset="0.667" stop-color="#8bff1b"/><stop offset="0.833" stop-color="#46ff17"/><stop offset="1.000" stop-color="#00ff14"/></linearGradient><linearGradient id="t81" x1="0" x2="1" y1="0" y2="0"><stop offset="0.000" stop-color="#ff0010"/><stop offset="0.167" stop-color="#ff5312"/><stop offset="0.333" stop-color="#ffa615"/><stop offset="0.500" stop-color="#e8ff18"/><stop offset="0.667" stop-color="#8bff13"/><stop offset="0.833" stop-color="#46ff10"/><stop offset="1.000" stop-color="#00ff0e"/></linearGradient><linearGradient id="t82" x1="0" x2="1" y1="0" y2="0"><stop offset="0.000" stop-color="#ff0008"/><stop offset="0.167" stop-color="#ff5309"/><stop offset="0.333" stop-color="#ffa60a"/><stop offset="0.500" stop-color="#e8ff0c"/><stop offset="0.667" stop-color="#8aff09"/><stop offset="0.833" stop-color="#46ff08"/><stop offset="1.000" stop-color="#00ff07"/></linearGradient><linearGradient id="t83" x1="0" x2="1" y1="0" y2="0"><stop offset="0.000" stop-color="#ff0002"/><stop offset="0.167" stop-color="#ff5302"/><stop offset="0.333" stop-color="#ffa602"/><stop offset="0.500" stop-color="#e8ff02"/><stop offset="0.667" stop-color="#8aff02"/><stop offset="0.833" stop-color="#46ff02"/><stop offset="1.000" stop-color="#00ff01"/></linearGradient><clipPath id="tclip"><path d="M2040.8 409.4L2229.9 409.4A645.6 645.6 0 0 0 2208.8 241.1Z"/></clipPath></defs>
<g clip-path="url(#clipa)"><g filter="url(#dispa)"><rect x="-133" y="-189" width="1278" height="1190" filter="url(#fa0)" transform="rotate(-25 506.1 406.15)"/><g clip-path="url(#cpfa1)"><rect x="110" y="97" width="157" height="178" filter="url(#fa1)"/></g><g clip-path="url(#cpfa2)"><rect x="226" y="-86" width="822" height="573" filter="url(#fa2)" transform="rotate(-15 506.1 406.15)"/></g><g clip-path="url(#cpfa2b)"><rect x="-5" y="93" width="151" height="134" filter="url(#fa2b)"/></g><g clip-path="url(#cpfa3)"><rect x="632" y="559" width="375" height="267" filter="url(#fa3)"/></g><g clip-path="url(#cpfa3b)"><rect x="-25" y="230" width="404" height="268" filter="url(#fa3b)" transform="rotate(-25 506.1 406.15)"/></g><g clip-path="url(#cpfa4)"><rect x="725" y="115" width="349" height="449" filter="url(#fa4)" transform="rotate(20 506.1 406.15)"/></g><g clip-path="url(#cpfa5)"><rect x="551" y="266" width="292" height="267" filter="url(#fa5)" transform="rotate(30 506.1 406.15)"/></g><g clip-path="url(#cpfa6)"><rect x="359" y="414" width="303" height="410" filter="url(#fa6)"/></g><g clip-path="url(#cpfa6b)"><rect x="-5" y="545" width="395" height="281" filter="url(#fa6b)"/></g><g clip-path="url(#cpfa7)"><rect x="473" y="-14" width="533" height="200" filter="url(#fa7)"/></g></g></g>
<g clip-path="url(#clipb)"><g filter="url(#dispb)"><rect x="-154" y="578" width="1320" height="1277" filter="url(#fb0)" transform="rotate(-35 506.05 1216.0500000000002)"/><g clip-path="url(#cpfb1)"><rect x="-92" y="1074" width="267" height="384" filter="url(#fb1)" transform="rotate(25 506.05 1216.0500000000002)"/></g><g clip-path="url(#cpfb1b)"><rect x="-1" y="904" width="409" height="521" filter="url(#fb1b)" transform="rotate(5 506.05 1216.0500000000002)"/></g><g clip-path="url(#cpfb2)"><rect x="364" y="876" width="384" height="446" filter="url(#fb2)" transform="rotate(-30 506.05 1216.0500000000002)"/></g><g clip-path="url(#cpfb2b)"><rect x="375" y="1287" width="546" height="532" filter="url(#fb2b)" transform="rotate(-30 506.05 1216.0500000000002)"/></g><g clip-path="url(#cpfb2c)"><rect x="311" y="1205" width="247" height="208" filter="url(#fb2c)" transform="rotate(-30 506.05 1216.0500000000002)"/></g><g clip-path="url(#cpfb3)"><rect x="-5" y="1367" width="615" height="269" filter="url(#fb3)"/></g><g clip-path="url(#cpfb3b)"><rect x="-5" y="1224" width="196" height="98" filter="url(#fb3b)"/></g><g clip-path="url(#cpfb5)"><rect x="132" y="792" width="198" height="132" filter="url(#fb5)"/></g><g clip-path="url(#cpfb6)"><rect x="248" y="770" width="455" height="184" filter="url(#fb6)" transform="rotate(8 506.05 1216.0500000000002)"/></g></g></g>
<g clip-path="url(#clipc)"><g filter="url(#dispc)"><rect x="-3" y="1607" width="1022" height="848" filter="url(#fc0)"/><g clip-path="url(#cpfc1)"><rect x="-7" y="1678" width="625" height="439" filter="url(#fc1)" transform="rotate(-5 508.04999999999995 2030.9)"/></g><g clip-path="url(#cpfcn)"><rect x="201" y="1556" width="623" height="230" filter="url(#fcn)" transform="rotate(-10 508.04999999999995 2030.9)"/></g><g clip-path="url(#cpfc1b)"><rect x="-3" y="2082" width="595" height="142" filter="url(#fc1b)"/></g><g clip-path="url(#cpfc2)"><rect x="535" y="1929" width="491" height="414" filter="url(#fc2)" transform="rotate(-30 508.04999999999995 2030.9)"/></g><g clip-path="url(#cpfc3)"><rect x="580" y="1719" width="428" height="174" filter="url(#fc3)"/></g></g></g>
<rect x="1185.90" y="708.71" width="26.10" height="35.29" fill="#f00" stroke="#000" stroke-width="2.4"/>
<rect x="1227.06" y="650.48" width="26.10" height="93.52" fill="#f00" stroke="#000" stroke-width="2.4"/>
<rect x="1268.22" y="431.19" width="26.10" height="312.81" fill="#f00" stroke="#000" stroke-width="2.4"/>
<rect x="1309.38" y="320.99" width="26.10" height="423.01" fill="#f00" stroke="#000" stroke-width="2.4"/>
<rect x="1350.54" y="139.29" width="26.10" height="604.71" fill="#f00" stroke="#000" stroke-width="2.4"/>
<rect x="1391.70" y="157.72" width="26.10" height="586.28" fill="#f00" stroke="#000" stroke-width="2.4"/>
<rect x="1432.86" y="303.67" width="26.10" height="440.33" fill="#f00" stroke="#000" stroke-width="2.4"/>
<rect x="1474.02" y="391.02" width="26.10" height="352.98" fill="#f00" stroke="#000" stroke-width="2.4"/>
<rect x="1515.18" y="488.69" width="26.10" height="255.31" fill="#f00" stroke="#000" stroke-width="2.4"/>
<rect x="1556.34" y="577.88" width="26.10" height="166.12" fill="#f00" stroke="#000" stroke-width="2.4"/>
<rect x="1597.50" y="610.31" width="26.10" height="133.69" fill="#f00" stroke="#000" stroke-width="2.4"/>
<rect x="1638.66" y="646.80" width="26.10" height="97.20" fill="#f00" stroke="#000" stroke-width="2.4"/>
<rect x="1679.82" y="670.75" width="26.10" height="73.25" fill="#f00" stroke="#000" stroke-width="2.4"/>
<rect x="1720.98" y="702.82" width="26.10" height="41.18" fill="#f00" stroke="#000" stroke-width="2.4"/>
<rect x="1762.14" y="714.98" width="26.10" height="29.02" fill="#f00" stroke="#000" stroke-width="2.4"/>
<rect x="1803.30" y="728.62" width="26.10" height="15.39" fill="#f00" stroke="#000" stroke-width="2.4"/>
<rect x="1844.46" y="735.25" width="26.10" height="8.75" fill="#f00" stroke="#000" stroke-width="2.4"/>
<rect x="1885.62" y="741.51" width="26.10" height="2.49" fill="#f00" stroke="#000" stroke-width="2.4"/>
<rect x="1926.78" y="742.80" width="26.10" height="1.20" fill="#f00" stroke="#000" stroke-width="2.4"/>
<rect x="1967.94" y="744.09" width="26.10" height="0.50" fill="#f00" stroke="#000" stroke-width="2.4"/>
<path d="M1178.50 80.60H2001.50V744.00H1178.50Z" fill="none" stroke="#000" stroke-width="2.6"/>
<path d="M1165.50 744.00H1178.50 M1172.00 707.14H1178.50 M1165.50 670.29H1178.50 M1172.00 633.43H1178.50 M1165.50 596.58H1178.50 M1172.00 559.72H1178.50 M1165.50 522.87H1178.50 M1172.00 486.01H1178.50 M1165.50 449.16H1178.50 M1172.00 412.30H1178.50 M1165.50 375.44H1178.50 M1172.00 338.59H1178.50 M1165.50 301.73H1178.50 M1172.00 264.88H1178.50 M1165.50 228.02H1178.50 M1172.00 191.17H1178.50 M1165.50 154.31H1178.50 M1172.00 117.46H1178.50 M1165.50 80.60H1178.50 M1190.00 744.00V750.00 M1235.85 744.00V750.00 M1274.61 744.00V750.00 M1308.19 744.00V750.00 M1337.81 744.00V750.00 M1364.30 744.00V756.50 M1538.60 744.00V750.00 M1640.55 744.00V750.00 M1712.89 744.00V750.00 M1769.00 744.00V750.00 M1814.85 744.00V750.00 M1853.61 744.00V750.00 M1887.19 744.00V750.00 M1916.81 744.00V750.00 M1943.30 744.00V756.50" fill="none" stroke="#000" stroke-width="2.6"/>
<rect x="1197.30" y="988.68" width="24.50" height="540.52" fill="#f00" stroke="#000" stroke-width="2.4"/>
<rect x="1233.85" y="1117.66" width="24.50" height="411.54" fill="#f00" stroke="#000" stroke-width="2.4"/>
<rect x="1270.40" y="967.79" width="24.50" height="561.41" fill="#f00" stroke="#000" stroke-width="2.4"/>
<rect x="1306.95" y="1134.86" width="24.50" height="394.34" fill="#f00" stroke="#000" stroke-width="2.4"/>
<rect x="1343.50" y="1162.49" width="24.50" height="366.71" fill="#f00" stroke="#000" stroke-width="2.4"/>
<rect x="1380.05" y="937.70" width="24.50" height="591.50" fill="#f00" stroke="#000" stroke-width="2.4"/>
<rect x="1416.60" y="993.59" width="24.50" height="535.61" fill="#f00" stroke="#000" stroke-width="2.4"/>
<rect x="1453.15" y="1070.36" width="24.50" height="458.84" fill="#f00" stroke="#000" stroke-width="2.4"/>
<rect x="1489.70" y="999.73" width="24.50" height="529.47" fill="#f00" stroke="#000" stroke-width="2.4"/>
<rect x="1526.25" y="1129.94" width="24.50" height="399.26" fill="#f00" stroke="#000" stroke-width="2.4"/>
<rect x="1562.80" y="1168.02" width="24.50" height="361.18" fill="#f00" stroke="#000" stroke-width="2.4"/>
<rect x="1599.35" y="1249.71" width="24.50" height="279.49" fill="#f00" stroke="#000" stroke-width="2.4"/>
<rect x="1635.90" y="1303.15" width="24.50" height="226.05" fill="#f00" stroke="#000" stroke-width="2.4"/>
<rect x="1672.45" y="1355.35" width="24.50" height="173.85" fill="#f00" stroke="#000" stroke-width="2.4"/>
<rect x="1709.00" y="1406.95" width="24.50" height="122.25" fill="#f00" stroke="#000" stroke-width="2.4"/>
<rect x="1745.55" y="1466.52" width="24.50" height="62.68" fill="#f00" stroke="#000" stroke-width="2.4"/>
<rect x="1782.10" y="1474.51" width="24.50" height="54.69" fill="#f00" stroke="#000" stroke-width="2.4"/>
<rect x="1818.65" y="1501.53" width="24.50" height="27.67" fill="#f00" stroke="#000" stroke-width="2.4"/>
<rect x="1855.20" y="1508.29" width="24.50" height="20.91" fill="#f00" stroke="#000" stroke-width="2.4"/>
<rect x="1891.75" y="1519.96" width="24.50" height="9.24" fill="#f00" stroke="#000" stroke-width="2.4"/>
<path d="M1166.50 852.50H2007.00V1529.20H1166.50Z" fill="none" stroke="#000" stroke-width="2.6"/>
<path d="M1153.50 1529.20H1166.50 M1160.00 1467.78H1166.50 M1153.50 1406.36H1166.50 M1160.00 1344.94H1166.50 M1153.50 1283.52H1166.50 M1160.00 1222.10H1166.50 M1153.50 1160.68H1166.50 M1160.00 1099.26H1166.50 M1153.50 1037.84H1166.50 M1160.00 976.42H1166.50 M1153.50 915.00H1166.50 M1160.00 853.58H1166.50 M1166.32 1529.20V1535.20 M1217.99 1529.20V1535.20 M1260.21 1529.20V1535.20 M1295.91 1529.20V1535.20 M1326.83 1529.20V1535.20 M1354.10 1529.20V1535.20 M1378.50 1529.20V1541.70 M1539.01 1529.20V1535.20 M1632.90 1529.20V1535.20 M1699.52 1529.20V1535.20 M1751.19 1529.20V1535.20 M1793.41 1529.20V1535.20 M1829.11 1529.20V1535.20 M1860.03 1529.20V1535.20 M1887.30 1529.20V1535.20 M1911.70 1529.20V1541.70" fill="none" stroke="#000" stroke-width="2.6"/>
<rect x="1200.40" y="1994.90" width="23.80" height="314.70" fill="#f00" stroke="#000" stroke-width="2.4"/>
<rect x="1230.47" y="2047.55" width="23.80" height="262.05" fill="#f00" stroke="#000" stroke-width="2.4"/>
<rect x="1260.54" y="2074.55" width="23.80" height="235.05" fill="#f00" stroke="#000" stroke-width="2.4"/>
<rect x="1290.61" y="2113.70" width="23.80" height="195.90" fill="#f00" stroke="#000" stroke-width="2.4"/>
<rect x="1320.68" y="2166.35" width="23.80" height="143.25" fill="#f00" stroke="#000" stroke-width="2.4"/>
<rect x="1350.75" y="2032.70" width="23.80" height="276.90" fill="#f00" stroke="#000" stroke-width="2.4"/>
<rect x="1380.82" y="2044.17" width="23.80" height="265.43" fill="#f00" stroke="#000" stroke-width="2.4"/>
<rect x="1410.89" y="1921.33" width="23.80" height="388.27" fill="#f00" stroke="#000" stroke-width="2.4"/>
<rect x="1440.96" y="1945.62" width="23.80" height="363.97" fill="#f00" stroke="#000" stroke-width="2.4"/>
<rect x="1471.03" y="1825.47" width="23.80" height="484.13" fill="#f00" stroke="#000" stroke-width="2.4"/>
<rect x="1501.10" y="1693.85" width="23.80" height="615.75" fill="#f00" stroke="#000" stroke-width="2.4"/>
<rect x="1531.17" y="1730.97" width="23.80" height="578.62" fill="#f00" stroke="#000" stroke-width="2.4"/>
<rect x="1561.24" y="1685.08" width="23.80" height="624.52" fill="#f00" stroke="#000" stroke-width="2.4"/>
<rect x="1591.31" y="1805.22" width="23.80" height="504.38" fill="#f00" stroke="#000" stroke-width="2.4"/>
<rect x="1621.38" y="1880.15" width="23.80" height="429.45" fill="#f00" stroke="#000" stroke-width="2.4"/>
<rect x="1651.45" y="2000.97" width="23.80" height="308.63" fill="#f00" stroke="#000" stroke-width="2.4"/>
<rect x="1681.52" y="2069.15" width="23.80" height="240.45" fill="#f00" stroke="#000" stroke-width="2.4"/>
<rect x="1711.59" y="2147.45" width="23.80" height="162.15" fill="#f00" stroke="#000" stroke-width="2.4"/>
<rect x="1741.66" y="2195.37" width="23.80" height="114.23" fill="#f00" stroke="#000" stroke-width="2.4"/>
<rect x="1771.73" y="2214.95" width="23.80" height="94.65" fill="#f00" stroke="#000" stroke-width="2.4"/>
<rect x="1801.80" y="2252.07" width="23.80" height="57.52" fill="#f00" stroke="#000" stroke-width="2.4"/>
<rect x="1831.87" y="2282.45" width="23.80" height="27.15" fill="#f00" stroke="#000" stroke-width="2.4"/>
<rect x="1861.94" y="2291.22" width="23.80" height="18.37" fill="#f00" stroke="#000" stroke-width="2.4"/>
<rect x="1892.01" y="2293.25" width="23.80" height="16.35" fill="#f00" stroke="#000" stroke-width="2.4"/>
<rect x="1922.08" y="2306.75" width="23.80" height="2.85" fill="#f00" stroke="#000" stroke-width="2.4"/>
<rect x="1952.15" y="2307.42" width="23.80" height="2.17" fill="#f00" stroke="#000" stroke-width="2.4"/>
<rect x="1982.22" y="2307.42" width="23.80" height="2.17" fill="#f00" stroke="#000" stroke-width="2.4"/>
<path d="M1169.30 1634.00H2009.20V2309.60H1169.30Z" fill="none" stroke="#000" stroke-width="2.6"/>
<path d="M1156.30 2309.60H1169.30 M1162.80 2242.10H1169.30 M1156.30 2174.60H1169.30 M1162.80 2107.10H1169.30 M1156.30 2039.60H1169.30 M1162.80 1972.10H1169.30 M1156.30 1904.60H1169.30 M1162.80 1837.10H1169.30 M1156.30 1769.60H1169.30 M1162.80 1702.10H1169.30 M1156.30 1634.60H1169.30 M1169.27 2309.60V2315.60 M1226.41 2309.60V2315.60 M1273.10 2309.60V2315.60 M1312.57 2309.60V2315.60 M1346.76 2309.60V2315.60 M1376.92 2309.60V2315.60 M1403.90 2309.60V2322.10 M1581.39 2309.60V2315.60 M1685.21 2309.60V2315.60 M1758.87 2309.60V2315.60 M1816.01 2309.60V2315.60 M1862.70 2309.60V2315.60 M1902.17 2309.60V2315.60 M1936.36 2309.60V2315.60 M1966.52 2309.60V2315.60 M1993.50 2309.60V2322.10" fill="none" stroke="#000" stroke-width="2.6"/>
<g clip-path="url(#tclip)"><rect x="2205.1" y="243.1" width="4.3" height="2.70" fill="url(#t0)"/><rect x="2203.1" y="245.1" width="6.8" height="2.70" fill="url(#t1)"/><rect x="2201.1" y="247.1" width="9.3" height="2.70" fill="url(#t2)"/><rect x="2199.1" y="249.1" width="11.8" height="2.70" fill="url(#t3)"/><rect x="2197.1" y="251.1" width="14.3" height="2.70" fill="url(#t4)"/><rect x="2195.1" y="253.1" width="16.8" height="2.70" fill="url(#t5)"/><rect x="2193.1" y="255.1" width="19.3" height="2.70" fill="url(#t6)"/><rect x="2191.1" y="257.1" width="21.8" height="2.70" fill="url(#t7)"/><rect x="2189.1" y="259.1" width="24.3" height="2.70" fill="url(#t8)"/><rect x="2187.1" y="261.1" width="26.8" height="2.70" fill="url(#t9)"/><rect x="2185.1" y="263.1" width="29.2" height="2.70" fill="url(#t10)"/><rect x="2183.1" y="265.1" width="31.7" height="2.70" fill="url(#t11)"/><rect x="2181.1" y="267.1" width="34.1" height="2.70" fill="url(#t12)"/><rect x="2179.1" y="269.1" width="36.6" height="2.70" fill="url(#t13)"/><rect x="2177.1" y="271.1" width="39.0" height="2.70" fill="url(#t14)"/><rect x="2175.1" y="273.1" width="41.5" height="2.70" fill="url(#t15)"/><rect x="2173.1" y="275.1" width="43.9" height="2.70" fill="url(#t16)"/><rect x="2171.1" y="277.1" width="46.3" height="2.70" fill="url(#t17)"/><rect x="2169.1" y="279.1" width="48.7" height="2.70" fill="url(#t18)"/><rect x="2167.1" y="281.1" width="51.1" height="2.70" fill="url(#t19)"/><rect x="2165.1" y="283.1" width="53.5" height="2.70" fill="url(#t20)"/><rect x="2163.1" y="285.1" width="55.9" height="2.70" fill="url(#t21)"/><rect x="2161.1" y="287.1" width="58.3" height="2.70" fill="url(#t22)"/><rect x="2159.1" y="289.1" width="60.7" height="2.70" fill="url(#t23)"/><rect x="2157.1" y="291.1" width="63.0" height="2.70" fill="url(#t24)"/><rect x="2155.1" y="293.1" width="65.4" height="2.70" fill="url(#t25)"/><rect x="2153.1" y="295.1" width="67.8" height="2.70" fill="url(#t26)"/><rect x="2151.1" y="297.1" width="70.1" height="2.70" fill="url(#t27)"/><rect x="2149.1" y="299.1" width="72.5" height="2.70" fill="url(#t28)"/><rect x="2147.1" y="301.1" width="74.8" height="2.70" fill="url(#t29)"/><rect x="2145.1" y="303.1" width="77.1" height="2.70" fill="url(#t30)"/><rect x="2143.1" y="305.1" width="79.5" height="2.70" fill="url(#t31)"/><rect x="2141.1" y="307.1" width="81.8" height="2.70" fill="url(#t32)"/><rect x="2139.1" y="309.1" width="84.1" height="2.70" fill="url(#t33)"/><rect x="2137.1" y="311.1" width="86.4" height="2.70" fill="url(#t34)"/><rect x="2135.1" y="313.1" width="88.7" height="2.70" fill="url(#t35)"/><rect x="2133.1" y="315.1" width="91.0" height="2.70" fill="url(#t36)"/><rect x="2131.1" y="317.1" width="93.3" height="2.70" fill="url(#t37)"/><rect x="2129.1" y="319.1" width="95.6" height="2.70" fill="url(#t38)"/><rect x="2127.1" y="321.1" width="97.9" height="2.70" fill="url(#t39)"/><rect x="2125.1" y="323.1" width="100.1" height="2.70" fill="url(#t40)"/><rect x="2123.1" y="325.1" width="102.4" height="2.70" fill="url(#t41)"/><rect x="2121.1" y="327.1" width="104.6" height="2.70" fill="url(#t42)"/><rect x="2119.1" y="329.1" width="106.9" height="2.70" fill="url(#t43)"/><rect x="2117.1" y="331.1" width="109.1" height="2.70" fill="url(#t44)"/><rect x="2115.1" y="333.1" width="111.4" height="2.70" fill="url(#t45)"/><rect x="2113.1" y="335.1" width="113.6" height="2.70" fill="url(#t46)"/><rect x="2111.1" y="337.1" width="115.8" height="2.70" fill="url(#t47)"/><rect x="2109.1" y="339.1" width="118.1" height="2.70" fill="url(#t48)"/><rect x="2107.1" y="341.1" width="120.3" height="2.70" fill="url(#t49)"/><rect x="2105.1" y="343.1" width="122.5" height="2.70" fill="url(#t50)"/><rect x="2103.1" y="345.1" width="124.7" height="2.70" fill="url(#t51)"/><rect x="2101.1" y="347.1" width="126.9" height="2.70" fill="url(#t52)"/><rect x="2099.1" y="349.1" width="129.1" height="2.70" fill="url(#t53)"/><rect x="2097.1" y="351.1" width="131.2" height="2.70" fill="url(#t54)"/><rect x="2095.1" y="353.1" width="133.4" height="2.70" fill="url(#t55)"/><rect x="2093.1" y="355.1" width="135.6" height="2.70" fill="url(#t56)"/><rect x="2091.1" y="357.1" width="137.7" height="2.70" fill="url(#t57)"/><rect x="2089.1" y="359.1" width="139.9" height="2.70" fill="url(#t58)"/><rect x="2087.1" y="361.1" width="142.1" height="2.70" fill="url(#t59)"/><rect x="2085.1" y="363.1" width="144.2" height="2.70" fill="url(#t60)"/><rect x="2083.1" y="365.1" width="146.3" height="2.70" fill="url(#t61)"/><rect x="2081.1" y="367.1" width="148.5" height="2.70" fill="url(#t62)"/><rect x="2079.1" y="369.1" width="150.6" height="2.70" fill="url(#t63)"/><rect x="2077.1" y="371.1" width="152.7" height="2.70" fill="url(#t64)"/><rect x="2075.1" y="373.1" width="154.8" height="2.70" fill="url(#t65)"/><rect x="2073.1" y="375.1" width="156.9" height="2.70" fill="url(#t66)"/><rect x="2071.1" y="377.1" width="159.0" height="2.70" fill="url(#t67)"/><rect x="2069.1" y="379.1" width="161.1" height="2.70" fill="url(#t68)"/><rect x="2067.1" y="381.1" width="163.2" height="2.70" fill="url(#t69)"/><rect x="2065.1" y="383.1" width="165.3" height="2.70" fill="url(#t70)"/><rect x="2063.1" y="385.1" width="167.4" height="2.70" fill="url(#t71)"/><rect x="2061.1" y="387.1" width="169.4" height="2.70" fill="url(#t72)"/><rect x="2059.1" y="389.1" width="171.5" height="2.70" fill="url(#t73)"/><rect x="2057.1" y="391.1" width="173.6" height="2.70" fill="url(#t74)"/><rect x="2055.1" y="393.1" width="175.6" height="2.70" fill="url(#t75)"/><rect x="2053.1" y="395.1" width="177.7" height="2.70" fill="url(#t76)"/><rect x="2051.1" y="397.1" width="179.7" height="2.70" fill="url(#t77)"/><rect x="2049.1" y="399.1" width="181.7" height="2.70" fill="url(#t78)"/><rect x="2047.1" y="401.1" width="183.7" height="2.70" fill="url(#t79)"/><rect x="2045.1" y="403.1" width="185.8" height="2.70" fill="url(#t80)"/><rect x="2043.1" y="405.1" width="187.8" height="2.70" fill="url(#t81)"/><rect x="2041.1" y="407.1" width="189.8" height="2.70" fill="url(#t82)"/><rect x="2039.9" y="409.1" width="190.9" height="1.00" fill="url(#t83)"/></g>
<path d="M2040.8 409.4L2229.9 409.4A645.6 645.6 0 0 0 2208.8 241.1Z" fill="none" stroke="#111" stroke-width="1.3"/>
<g font-family="Liberation Sans, Arial, sans-serif" font-weight="bold" fill="#000">
<text transform="translate(46.55 86.20) scale(1.0154 1)" font-size="60.14" >(a)</text>
<text transform="translate(758.18 87.00) scale(0.9670 1)" font-size="62.75" >AB IPF</text>
<text transform="translate(987.37 75.70) scale(1.0063 1)" font-size="60.28" >(a1)</text>
<text transform="translate(47.35 892.00) scale(1.0109 1)" font-size="60.28" >(b)</text>
<text transform="translate(756.70 892.20) scale(0.9414 1)" font-size="64.06" >T5 IPF</text>
<text transform="translate(1006.87 875.40) scale(0.9847 1)" font-size="61.52" >(b1)</text>
<text transform="translate(46.55 1707.30) scale(1.0131 1)" font-size="60.28" >(c)</text>
<text transform="translate(759.90 1707.40) scale(0.9649 1)" font-size="62.43" >T6 IPF</text>
<text transform="translate(987.33 1677.60) scale(1.0191 1)" font-size="60.28" >(c1)</text>
<text transform="translate(1127.87 759.60) scale(0.9700 1)" font-size="51.71" >0</text>
<text transform="translate(1127.87 685.89) scale(0.9700 1)" font-size="51.71" >2</text>
<text transform="translate(1125.71 612.18) scale(0.9700 1)" font-size="52.46" >4</text>
<text transform="translate(1127.62 538.47) scale(0.9700 1)" font-size="51.71" >6</text>
<text transform="translate(1127.36 464.76) scale(0.9700 1)" font-size="51.71" >8</text>
<text transform="translate(1100.03 391.04) scale(0.9700 1)" font-size="51.71" >10</text>
<text transform="translate(1100.03 317.33) scale(0.9700 1)" font-size="51.71" >12</text>
<text transform="translate(1097.47 243.62) scale(0.9700 1)" font-size="52.46" >14</text>
<text transform="translate(1099.77 169.91) scale(0.9700 1)" font-size="51.71" >16</text>
<text transform="translate(1099.52 96.20) scale(0.9700 1)" font-size="51.71" >18</text>
<text transform="translate(1115.81 1544.75) scale(0.9900 1)" font-size="52.14" >0</text>
<text transform="translate(1115.81 1421.91) scale(0.9900 1)" font-size="52.14" >2</text>
<text transform="translate(1113.60 1299.07) scale(0.9900 1)" font-size="52.90" >4</text>
<text transform="translate(1115.56 1176.23) scale(0.9900 1)" font-size="52.14" >6</text>
<text transform="translate(1115.30 1053.39) scale(0.9900 1)" font-size="52.14" >8</text>
<text transform="translate(1087.17 930.55) scale(0.9900 1)" font-size="52.14" >10</text>
<text transform="translate(1121.68 2323.25) scale(0.9500 1)" font-size="46.43" >0</text>
<text transform="translate(1121.68 2188.25) scale(0.9500 1)" font-size="46.43" >2</text>
<text transform="translate(1119.79 2053.25) scale(0.9500 1)" font-size="47.10" >4</text>
<text transform="translate(1121.46 1918.25) scale(0.9500 1)" font-size="46.43" >6</text>
<text transform="translate(1121.24 1783.25) scale(0.9500 1)" font-size="46.43" >8</text>
<text transform="translate(1097.21 1648.25) scale(0.9500 1)" font-size="46.43" >10</text>
<text transform="translate(1350.44 805.40) scale(0.7295 1)" font-size="51.88" >1</text>
<text transform="translate(1915.15 805.20) scale(0.9767 1)" font-size="51.14" >10</text>
<text transform="translate(1365.44 1591.00) scale(0.7481 1)" font-size="52.61" >1</text>
<text transform="translate(1883.69 1591.00) scale(0.9824 1)" font-size="51.86" >10</text>
<text transform="translate(1391.82 2367.00) scale(0.7665 1)" font-size="43.77" >1</text>
<text transform="translate(1968.45 2367.20) scale(1.0250 1)" font-size="42.71" >10</text>
<text transform="translate(1379.20 2411.60) scale(1.0100 1)" font-size="56.83" >Grain size (μm)</text>
<text transform="translate(1081.00 557.40) rotate(-90) translate(-3.65 0) scale(0.9993 1)" font-size="56.14">Fraction (%)</text>
<text transform="translate(1089.40 1349.00) rotate(-90) translate(-3.72 0) scale(1.0101 1)" font-size="56.69">Fraction (%)</text>
<text transform="translate(1098.90 2130.10) rotate(-90) translate(-3.71 0) scale(1.0185 1)" font-size="56.00">Fraction (%)</text>
<text transform="translate(1191.26 149.80) scale(1.0049 1)" font-size="61.16" >AB</text>
<text transform="translate(1186.80 931.40) scale(0.9472 1)" font-size="63.62" >T5</text>
<text transform="translate(1199.49 1713.50) scale(0.9768 1)" font-size="62.43" >T6</text>
<text transform="translate(1558.79 150.40) scale(1.0004 1)" font-size="50.21" >d = 1.50 ± 0.95 μm</text>
<text transform="translate(1561.46 923.80) scale(0.9922 1)" font-size="51.45" >d = 1.60 ± 1.25 μm</text>
<text transform="translate(1603.90 1697.10) scale(1.0265 1)" font-size="43.72" >d = 1.75 ± 1.04 μm</text>
<text transform="translate(2082.79 116.10) scale(0.9594 1)" font-size="62.75" >IPF</text>
<text transform="translate(2147.37 225.80) scale(0.9604 1)" font-size="62.90" >111</text>
<text transform="translate(2004.54 478.30) scale(0.9123 1)" font-size="62.00" >001</text>
<text transform="translate(2199.58 472.30) scale(0.8992 1)" font-size="61.86" >101</text>
<text transform="translate(2041.62 692.70) scale(0.9707 1)" font-size="63.04" >15 μm</text>
<text transform="translate(2082.83 949.00) scale(1.0464 1)" font-size="62.90" >Z</text>
</g>
<rect x="24.6" y="822.2" width="1.8" height="96" fill="#aaffee"/>
<path d="M1564.9 104.7H1592.7M1567.7 874.7H1594.6M1609.7 1651.5H1632.1" stroke="#000" stroke-width="3"/>
<rect x="2079.5" y="731.1" width="133.9" height="29.6" fill="#000"/>
<path d="M2100.4 985.9L2130.3 1015.8H2115.4V1159.3H2085.8V1015.8H2070.1Z" fill="#000"/>
</svg></body></html>
